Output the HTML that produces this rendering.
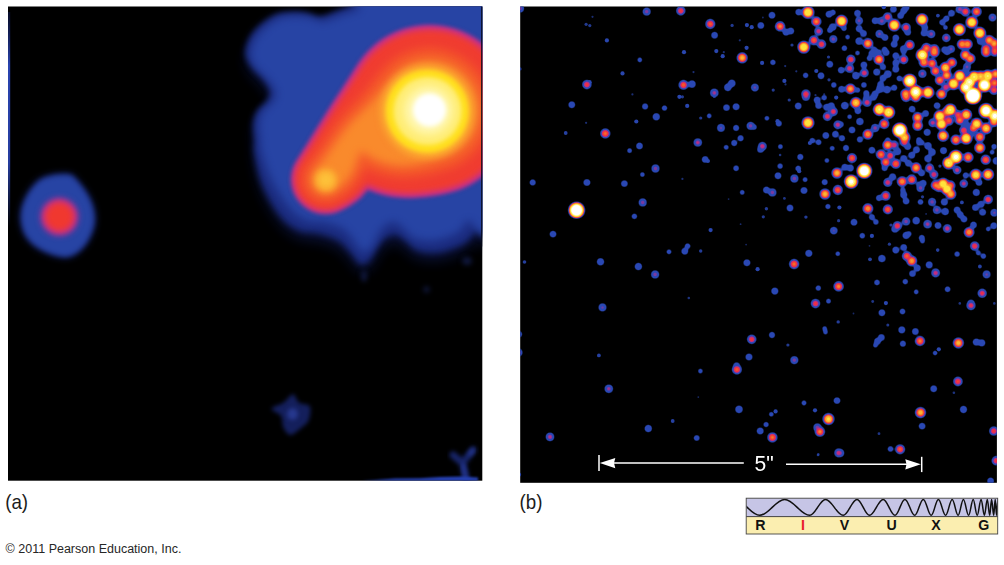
<!DOCTYPE html>
<html><head><meta charset="utf-8"><title>Figure</title>
<style>
html,body{margin:0;padding:0;background:#fff;}
body{width:1004px;height:565px;position:relative;overflow:hidden;font-family:"Liberation Sans",Arial,Helvetica,sans-serif;color:#1a1a1a;}
svg{position:absolute;left:0;top:0;}
.lbl{position:absolute;font-size:18px;line-height:1;white-space:nowrap;}
.cr{position:absolute;font-size:12.3px;line-height:1;white-space:nowrap;color:#222;}
</style></head><body>
<svg width="1004" height="565" viewBox="0 0 1004 565">
<defs>
<filter id="bl05" x="-5%" y="-5%" width="110%" height="110%" color-interpolation-filters="sRGB"><feGaussianBlur stdDeviation="0.55"/></filter>
<filter id="bl1" x="-30%" y="-30%" width="160%" height="160%" color-interpolation-filters="sRGB"><feGaussianBlur stdDeviation="0.8"/></filter>
<filter id="bl2" x="-30%" y="-30%" width="160%" height="160%" color-interpolation-filters="sRGB"><feGaussianBlur stdDeviation="2"/></filter>
<filter id="bl25" x="-30%" y="-30%" width="160%" height="160%" color-interpolation-filters="sRGB"><feGaussianBlur stdDeviation="2.5"/></filter>
<filter id="bl3" x="-30%" y="-30%" width="160%" height="160%" color-interpolation-filters="sRGB"><feGaussianBlur stdDeviation="3"/></filter>
<filter id="bl4" x="-30%" y="-30%" width="160%" height="160%" color-interpolation-filters="sRGB"><feGaussianBlur stdDeviation="4"/></filter>
<filter id="bl5" x="-30%" y="-30%" width="160%" height="160%" color-interpolation-filters="sRGB"><feGaussianBlur stdDeviation="5"/></filter>
<filter id="bl7" x="-30%" y="-30%" width="160%" height="160%" color-interpolation-filters="sRGB"><feGaussianBlur stdDeviation="7"/></filter>
<filter id="gooB" filterUnits="userSpaceOnUse" x="515" y="0" width="489" height="490" color-interpolation-filters="sRGB"><feGaussianBlur stdDeviation="1.3"/><feComponentTransfer><feFuncA type="linear" slope="2.5" intercept="-0.55"/></feComponentTransfer></filter>
<filter id="goo" filterUnits="userSpaceOnUse" x="515" y="0" width="489" height="490" color-interpolation-filters="sRGB"><feGaussianBlur stdDeviation="1.15"/><feComponentTransfer><feFuncA type="linear" slope="3.6" intercept="-1.05"/></feComponentTransfer></filter>
<linearGradient id="streak" x1="0" y1="0" x2="0" y2="1"><stop offset="0" stop-color="#1a2a80" stop-opacity="0.3"/><stop offset="0.25" stop-color="#2a44b0"/><stop offset="0.7" stop-color="#2a44b0" stop-opacity="0.9"/><stop offset="1" stop-color="#2a44b0" stop-opacity="0"/></linearGradient>
<clipPath id="ca"><rect x="8" y="6.5" width="474.3" height="474.2"/></clipPath>
<clipPath id="cb"><rect x="520.2" y="6.5" width="476.7" height="476.3"/></clipPath>
<clipPath id="cw"><rect x="746.5" y="498.5" width="251" height="18"/></clipPath>
</defs>
<!-- panel a -->
<rect x="8" y="6.5" width="474.3" height="474.2" fill="#000"/>
<g clip-path="url(#ca)">
<g filter="url(#bl7)" fill="#0c1440" opacity="0.9"><path d="M359.5 4.0 C356.1 6.0 345.3 9.4 338.8 11.7 C332.3 14.0 325.8 17.6 320.6 18.0 C315.4 18.4 312.5 15.0 307.7 14.2 C302.9 13.4 297.2 12.8 292.0 13.0 C286.8 13.2 281.8 13.3 276.6 15.5 C271.4 17.7 265.3 22.1 261.0 26.0 C256.7 29.9 253.1 34.1 250.7 38.8 C248.3 43.5 246.4 49.6 246.8 54.4 C247.2 59.1 250.5 63.4 253.3 67.3 C256.1 71.2 260.7 73.8 263.7 77.7 C266.7 81.6 270.5 86.7 271.4 90.6 C272.2 94.5 270.9 97.5 268.8 101.0 C266.7 104.5 260.9 107.4 258.5 111.3 C256.1 115.2 255.0 119.5 254.6 124.3 C254.2 129.1 255.7 134.9 255.9 139.8 C256.1 144.7 254.6 146.2 255.9 153.7 C257.2 161.2 259.4 174.3 263.7 184.7 C268.0 195.0 275.8 208.4 281.8 215.8 C287.9 223.2 293.7 226.5 300.0 229.2 C306.3 231.9 313.0 230.4 319.5 232.0 C326.0 233.6 333.8 235.9 339.0 239.0 C344.2 242.1 347.1 246.7 350.6 250.6 C354.2 254.5 357.1 261.0 360.3 262.3 C363.5 263.6 367.1 261.3 370.0 258.4 C372.9 255.5 375.3 248.5 377.9 244.8 C380.5 241.1 382.8 238.0 385.7 236.0 C388.6 234.0 392.2 232.5 395.4 233.0 C398.6 233.5 401.4 236.4 405.0 239.0 C408.6 241.6 411.6 246.7 416.8 248.7 C422.0 250.7 429.8 251.5 436.3 251.0 C442.8 250.5 450.5 247.7 455.7 245.7 C460.9 243.7 464.1 241.8 467.4 239.0 C470.6 236.2 471.4 232.7 475.2 229.2 C479.0 225.7 487.5 256.2 490.0 218.0 C492.5 179.8 511.8 36.3 490.0 0.0 C468.2 -36.3 381.2 -0.7 359.5 0.0 C337.8 0.7 362.9 2.0 359.5 4.0Z" transform="translate(0,9)"/></g>
<g filter="url(#bl3)" fill="#1b2c80"><path d="M359.2 2.5 C355.6 4.3 344.8 8.0 338.2 10.3 C331.6 12.7 325.0 16.3 319.8 16.7 C314.6 17.2 311.6 13.8 306.8 13.0 C302.0 12.2 296.2 11.6 291.0 11.9 C285.8 12.1 280.7 12.3 275.5 14.5 C270.3 16.7 264.2 21.2 259.8 25.1 C255.5 29.0 251.8 33.2 249.4 38.0 C247.0 42.8 245.0 49.0 245.4 53.8 C245.9 58.5 249.1 62.8 251.9 66.7 C254.7 70.7 259.3 73.3 262.3 77.2 C265.3 81.1 269.1 86.3 269.9 90.2 C270.8 94.1 269.5 97.3 267.3 100.8 C265.2 104.3 259.4 107.3 257.0 111.2 C254.6 115.1 253.5 119.5 253.1 124.3 C252.7 129.2 254.2 135.1 254.4 140.0 C254.6 145.0 253.1 146.5 254.4 154.1 C255.8 161.6 258.0 174.9 262.4 185.4 C266.8 195.9 274.6 209.3 280.7 216.8 C286.8 224.3 292.7 227.6 299.1 230.4 C305.4 233.1 312.2 231.6 318.7 233.3 C325.3 235.0 333.2 237.3 338.5 240.4 C343.7 243.5 346.6 248.2 350.2 252.1 C353.8 255.9 356.8 262.5 360.0 263.8 C363.3 265.1 366.9 262.8 369.8 259.9 C372.8 257.0 375.2 250.0 377.8 246.3 C380.5 242.6 382.8 239.5 385.7 237.5 C388.7 235.5 392.3 234.0 395.5 234.5 C398.8 235.0 401.6 237.9 405.2 240.5 C408.9 243.1 411.9 248.2 417.2 250.2 C422.4 252.1 430.3 252.9 436.8 252.4 C443.4 251.9 451.2 249.0 456.4 247.0 C461.7 245.0 465.0 243.0 468.3 240.2 C471.5 237.5 472.5 234.1 476.2 230.4 C479.8 226.7 487.7 256.4 490.0 218.0 C492.3 179.6 511.8 36.3 490.0 0.0 C468.2 -36.3 381.3 -0.4 359.5 0.0 C337.7 0.4 362.7 0.8 359.2 2.5Z"/></g>
<g filter="url(#bl4)" fill="#2744a4"><path d="M360.5 8.4 C357.3 11.0 346.8 13.6 340.6 15.8 C334.3 18.1 328.0 21.5 323.0 21.8 C318.0 22.1 315.0 18.7 310.4 17.8 C305.7 16.9 300.0 16.3 295.0 16.4 C289.9 16.5 284.9 16.6 279.8 18.6 C274.8 20.7 268.8 25.0 264.6 28.7 C260.4 32.5 256.8 36.5 254.6 41.1 C252.3 45.7 250.4 51.7 250.9 56.3 C251.4 61.0 254.6 65.2 257.5 69.0 C260.3 72.8 264.9 75.4 267.9 79.2 C271.0 83.0 274.9 88.0 275.8 91.7 C276.6 95.5 275.4 98.4 273.2 101.7 C271.1 105.0 265.3 107.9 263.0 111.6 C260.6 115.3 259.5 119.6 259.1 124.2 C258.7 128.7 259.9 134.4 260.3 139.1 C260.8 143.8 259.8 145.3 261.7 152.2 C263.6 159.1 267.2 170.9 271.9 180.3 C276.6 189.7 284.1 201.6 289.9 208.3 C295.7 215.0 300.9 218.2 306.8 220.5 C312.6 222.9 319.0 221.1 325.1 222.5 C331.1 223.9 338.2 225.8 343.0 228.7 C347.7 231.6 350.2 236.2 353.4 240.0 C356.6 243.7 359.2 250.2 362.2 251.5 C365.1 252.7 368.5 250.4 371.2 247.5 C373.9 244.5 376.1 237.6 378.5 233.8 C380.9 230.1 383.0 227.0 385.6 225.0 C388.3 223.0 391.5 221.5 394.4 222.0 C397.3 222.6 399.9 225.5 403.2 228.2 C406.5 230.8 409.3 235.9 414.2 238.0 C419.0 240.1 426.3 241.1 432.3 240.8 C438.3 240.4 445.5 237.9 450.3 236.1 C455.1 234.3 458.2 232.5 461.1 230.0 C464.1 227.4 463.4 222.7 468.2 220.7 C473.0 218.7 486.4 254.8 490.0 218.0 C493.6 181.2 511.8 36.3 490.0 0.0 C468.2 -36.3 381.1 -1.4 359.5 0.0 C337.9 1.4 363.6 5.8 360.5 8.4Z"/></g>
<g filter="url(#bl25)" fill="#10183f"><ellipse cx="364" cy="276" rx="3" ry="6"/><ellipse cx="467" cy="261" rx="5" ry="4"/><ellipse cx="426.5" cy="289.5" rx="3" ry="3"/></g>
<g filter="url(#bl2)" fill="#c42c98"><circle cx="429.5" cy="110.0" r="85.0"/><circle cx="424.3" cy="113.5" r="82.5"/><circle cx="419.1" cy="116.9" r="79.9"/><circle cx="413.8" cy="120.3" r="77.2"/><circle cx="408.4" cy="123.4" r="74.4"/><circle cx="402.8" cy="126.2" r="71.1"/><circle cx="396.8" cy="128.5" r="67.4"/><circle cx="390.3" cy="130.2" r="62.8"/><circle cx="383.4" cy="131.1" r="57.6"/><circle cx="376.2" cy="131.6" r="51.8"/><circle cx="369.1" cy="132.2" r="46.2"/><circle cx="362.5" cy="133.6" r="41.4"/><circle cx="356.8" cy="136.3" r="38.0"/><circle cx="352.1" cy="140.6" r="36.4"/><circle cx="348.4" cy="146.2" r="36.2"/><circle cx="345.2" cy="152.6" r="36.8"/><circle cx="342.0" cy="159.1" r="37.6"/><circle cx="338.6" cy="165.2" r="37.8"/><circle cx="334.7" cy="170.5" r="37.4"/><circle cx="330.3" cy="175.2" r="36.1"/><circle cx="325.6" cy="179.4" r="34.4"/></g>
<g filter="url(#bl3)" fill="#f03c30"><circle cx="429.5" cy="110.0" r="81.0"/><circle cx="424.3" cy="113.5" r="78.5"/><circle cx="419.1" cy="116.9" r="76.0"/><circle cx="413.8" cy="120.3" r="73.4"/><circle cx="408.4" cy="123.4" r="70.6"/><circle cx="402.8" cy="126.2" r="67.4"/><circle cx="396.8" cy="128.5" r="63.7"/><circle cx="390.3" cy="130.2" r="59.2"/><circle cx="383.4" cy="131.1" r="54.0"/><circle cx="376.2" cy="131.6" r="48.3"/><circle cx="369.1" cy="132.2" r="42.7"/><circle cx="362.5" cy="133.6" r="37.9"/><circle cx="356.8" cy="136.3" r="34.6"/><circle cx="352.1" cy="140.6" r="33.0"/><circle cx="348.4" cy="146.2" r="32.9"/><circle cx="345.2" cy="152.6" r="33.6"/><circle cx="342.0" cy="159.1" r="34.4"/><circle cx="338.6" cy="165.2" r="34.7"/><circle cx="334.7" cy="170.5" r="34.3"/><circle cx="330.3" cy="175.2" r="33.1"/><circle cx="325.6" cy="179.4" r="31.4"/></g>
<g filter="url(#bl5)" fill="#f4582a"><circle cx="429.5" cy="110.0" r="62.0"/><circle cx="424.3" cy="113.5" r="60.1"/><circle cx="419.1" cy="116.9" r="58.1"/><circle cx="413.8" cy="120.3" r="56.1"/><circle cx="408.4" cy="123.4" r="53.8"/><circle cx="402.8" cy="126.2" r="51.3"/><circle cx="396.8" cy="128.5" r="48.3"/><circle cx="390.3" cy="130.2" r="44.6"/><circle cx="383.4" cy="131.1" r="40.2"/><circle cx="376.2" cy="131.6" r="35.5"/><circle cx="369.1" cy="132.2" r="30.8"/><circle cx="362.5" cy="133.6" r="26.9"/><circle cx="356.8" cy="136.3" r="24.2"/><circle cx="352.1" cy="140.6" r="23.1"/><circle cx="348.4" cy="146.2" r="23.2"/><circle cx="345.2" cy="152.6" r="24.1"/><circle cx="342.0" cy="159.1" r="25.0"/><circle cx="338.6" cy="165.2" r="25.6"/><circle cx="334.7" cy="170.5" r="25.5"/><circle cx="330.3" cy="175.2" r="24.7"/><circle cx="325.6" cy="179.4" r="23.4"/></g>
<g filter="url(#bl5)" fill="#f98a2c"><circle cx="429.5" cy="110.0" r="50.0"/><circle cx="424.3" cy="113.5" r="48.2"/><circle cx="419.1" cy="116.9" r="46.4"/><circle cx="413.8" cy="120.3" r="44.5"/><circle cx="408.4" cy="123.4" r="42.4"/><circle cx="402.8" cy="126.2" r="40.1"/><circle cx="396.8" cy="128.5" r="37.2"/><circle cx="390.3" cy="130.2" r="33.6"/><circle cx="383.4" cy="131.1" r="29.4"/><circle cx="376.2" cy="131.6" r="24.8"/><circle cx="369.1" cy="132.2" r="20.3"/><circle cx="362.5" cy="133.6" r="16.5"/><circle cx="356.8" cy="136.3" r="14.0"/><circle cx="352.1" cy="140.6" r="13.0"/><circle cx="348.4" cy="146.2" r="13.3"/><circle cx="345.2" cy="152.6" r="14.3"/><circle cx="342.0" cy="159.1" r="15.4"/><circle cx="338.6" cy="165.2" r="16.1"/><circle cx="334.7" cy="170.5" r="16.2"/><circle cx="330.3" cy="175.2" r="15.6"/><circle cx="325.6" cy="179.4" r="14.4"/></g>
<g filter="url(#bl3)" fill="#fcaa30"><circle cx="427" cy="111.5" r="46.5"/><circle cx="326" cy="180" r="11.5"/></g>
<g filter="url(#bl2)"><circle cx="427.3" cy="111.2" r="41.5" fill="#ffe01e"/></g>
<g filter="url(#bl2)"><circle cx="427.6" cy="111" r="34" fill="#ffed74"/></g>
<g filter="url(#bl4)"><circle cx="428.5" cy="110.5" r="24" fill="#fff7b4"/></g>
<g filter="url(#bl2)"><circle cx="429.5" cy="110" r="16.5" fill="#ffffff"/></g>
<g filter="url(#bl3)"><circle cx="326" cy="180" r="7.5" fill="#fdc23a"/></g>
<g filter="url(#bl3)" fill="#16256c"><path d="M66.8 173.0 C60.6 172.6 48.3 173.8 41.4 177.6 C34.5 181.4 28.9 189.5 25.3 196.0 C21.7 202.5 19.6 209.9 19.6 216.8 C19.6 223.7 21.7 231.8 25.3 237.5 C28.9 243.2 34.5 247.9 41.4 251.3 C48.3 254.8 59.5 259.0 66.8 258.2 C74.1 257.4 80.4 252.4 85.2 246.7 C90.0 240.9 94.4 231.4 95.6 223.7 C96.8 216.0 95.0 208.0 92.1 200.7 C89.2 193.4 82.5 184.6 78.3 180.0 C74.1 175.4 73.0 173.4 66.8 173.0Z"/></g>
<g filter="url(#bl25)" fill="#2744a4"><path d="M66.3 175.5 C60.5 175.1 48.9 176.2 42.4 179.9 C35.9 183.5 30.8 191.1 27.4 197.3 C24.1 203.4 22.1 210.3 22.1 216.7 C22.1 223.2 24.0 230.8 27.4 236.1 C30.8 241.5 36.0 245.8 42.5 249.1 C49.0 252.3 59.5 256.5 66.3 255.7 C73.2 255.0 79.1 250.2 83.6 244.8 C88.0 239.4 92.1 230.4 93.2 223.2 C94.2 216.0 92.5 208.6 89.8 201.7 C87.1 194.9 81.0 186.6 77.1 182.2 C73.2 177.8 72.1 175.8 66.3 175.5Z"/></g>
<g filter="url(#bl3)" fill="#c42c94"><circle cx="59.4" cy="216.8" r="18.5"/></g>
<g filter="url(#bl3)" fill="#f0382f"><circle cx="59.4" cy="216.8" r="14.5"/></g>
<g filter="url(#bl2)" fill="#141f5c"><path d="M293.0 394.3 C295.6 394.3 296.2 400.7 299.0 402.7 C301.8 404.7 308.2 403.3 309.8 406.3 C311.4 409.3 310.0 417.0 308.6 420.6 C307.2 424.2 304.4 425.4 301.4 427.8 C298.4 430.2 293.6 435.0 290.6 435.0 C287.6 435.0 285.1 431.0 283.5 427.8 C281.9 424.6 283.0 419.1 281.0 415.9 C279.0 412.7 271.1 410.9 271.5 408.7 C271.9 406.5 279.9 405.1 283.5 402.7 C287.1 400.3 290.4 394.3 293.0 394.3Z"/></g>
<g filter="url(#bl2)" fill="#27388e"><ellipse cx="292.5" cy="414" rx="5.5" ry="6"/></g>
<g filter="url(#bl2)" fill="none" stroke="#172468" stroke-width="7" stroke-linecap="round"><path d="M466 478 L462.5 463 L453 455 M462.5 463 L473 450"/></g>
<g filter="url(#bl2)" fill="none" stroke="#263996" stroke-width="3.5" stroke-linecap="round"><path d="M465.5 478 L463 465 M470 454 L473 450"/></g>
<g filter="url(#bl1)"><path d="M362 481 L395 478.6 L420 478.2 L440 477 L462 476.6 L478 477.5 L478 481Z" fill="#2641b4"/></g>
<rect x="481.2" y="6.5" width="1.3" height="240" fill="#05081a"/>
<rect x="8" y="12" width="2.2" height="215" fill="url(#streak)"/>
</g>
<!-- panel b -->
<rect x="520.2" y="6.5" width="476.7" height="476.3" fill="#000"/>
<g clip-path="url(#cb)"><g>
<g fill="#2a48b4" filter="url(#bl05)"><circle cx="592.5" cy="16.8" r="1.1" opacity="0.64"/><circle cx="586.1" cy="24.3" r="1.6" opacity="0.80"/><circle cx="589.8" cy="25.6" r="1.6" opacity="0.80"/><circle cx="606.9" cy="40.4" r="2.1" opacity="0.97"/><circle cx="622.5" cy="73.4" r="2.1" opacity="0.97"/><circle cx="589.6" cy="82.2" r="2.1" opacity="0.97"/><circle cx="520.0" cy="68.9" r="1.6" opacity="0.80"/><circle cx="632.4" cy="94.4" r="1.1" opacity="0.64"/><circle cx="732.1" cy="25.4" r="1.6" opacity="0.80"/><circle cx="684.0" cy="52.2" r="2.1" opacity="0.97"/><circle cx="716.3" cy="51.1" r="2.1" opacity="0.97"/><circle cx="722.7" cy="56.2" r="2.1" opacity="0.97"/><circle cx="723.8" cy="52.2" r="1.1" opacity="0.64"/><circle cx="739.8" cy="40.3" r="1.1" opacity="0.64"/><circle cx="746.6" cy="47.8" r="2.1" opacity="0.97"/><circle cx="746.9" cy="25.1" r="2.1" opacity="0.97"/><circle cx="751.7" cy="27.2" r="2.1" opacity="0.97"/><circle cx="792.0" cy="45.0" r="1.6" opacity="0.80"/><circle cx="762.1" cy="62.9" r="2.1" opacity="0.97"/><circle cx="785.2" cy="66.1" r="1.1" opacity="0.64"/><circle cx="796.3" cy="71.3" r="1.1" opacity="0.64"/><circle cx="816.3" cy="71.0" r="2.1" opacity="0.97"/><circle cx="828.5" cy="57.0" r="1.6" opacity="0.80"/><circle cx="829.0" cy="79.8" r="1.6" opacity="0.80"/><circle cx="784.4" cy="80.9" r="2.1" opacity="0.97"/><circle cx="785.5" cy="84.4" r="1.1" opacity="0.64"/><circle cx="693.5" cy="72.1" r="1.1" opacity="0.64"/><circle cx="773.2" cy="90.1" r="1.6" opacity="0.80"/><circle cx="815.5" cy="95.2" r="1.1" opacity="0.64"/><circle cx="824.2" cy="94.4" r="1.1" opacity="0.64"/><circle cx="762.9" cy="17.5" r="0.9" opacity="0.57"/><circle cx="883.8" cy="7.2" r="2.1" opacity="0.97"/><circle cx="937.9" cy="15.6" r="1.9" opacity="0.90"/><circle cx="636.3" cy="121.5" r="2.1" opacity="0.97"/><circle cx="586.1" cy="122.8" r="1.1" opacity="0.64"/><circle cx="565.7" cy="133.0" r="1.9" opacity="0.90"/><circle cx="679.4" cy="96.8" r="2.1" opacity="0.97"/><circle cx="687.2" cy="105.9" r="2.1" opacity="0.97"/><circle cx="682.4" cy="96.8" r="1.6" opacity="0.80"/><circle cx="714.3" cy="96.5" r="1.6" opacity="0.80"/><circle cx="700.7" cy="118.0" r="1.6" opacity="0.80"/><circle cx="777.5" cy="121.2" r="2.1" opacity="0.97"/><circle cx="707.9" cy="161.0" r="2.1" opacity="0.97"/><circle cx="780.1" cy="155.0" r="1.3" opacity="0.70"/><circle cx="799.2" cy="171.2" r="2.1" opacity="0.97"/><circle cx="682.4" cy="178.9" r="1.1" opacity="0.64"/><circle cx="789.2" cy="100.0" r="1.6" opacity="0.80"/><circle cx="809.9" cy="143.0" r="2.1" opacity="0.97"/><circle cx="836.2" cy="97.6" r="2.1" opacity="0.97"/><circle cx="939.9" cy="166.1" r="1.6" opacity="0.80"/><circle cx="524.5" cy="262.0" r="1.8" opacity="0.87"/><circle cx="784.4" cy="198.4" r="1.4" opacity="0.74"/><circle cx="766.4" cy="208.8" r="1.7" opacity="0.84"/><circle cx="763.3" cy="216.8" r="1.6" opacity="0.80"/><circle cx="805.9" cy="217.1" r="1.7" opacity="0.84"/><circle cx="839.4" cy="207.5" r="2.1" opacity="0.97"/><circle cx="728.6" cy="199.1" r="0.9" opacity="0.57"/><circle cx="740.6" cy="224.2" r="0.9" opacity="0.60"/><circle cx="710.6" cy="230.1" r="2.1" opacity="0.97"/><circle cx="838.6" cy="220.7" r="1.6" opacity="0.80"/><circle cx="700.7" cy="251.0" r="1.7" opacity="0.84"/><circle cx="746.1" cy="244.6" r="0.9" opacity="0.57"/><circle cx="757.6" cy="269.2" r="2.1" opacity="0.97"/><circle cx="871.9" cy="235.9" r="2.1" opacity="0.97"/><circle cx="922.5" cy="196.8" r="1.6" opacity="0.80"/><circle cx="961.9" cy="202.4" r="1.9" opacity="0.90"/><circle cx="891.0" cy="225.0" r="1.6" opacity="0.80"/><circle cx="937.7" cy="250.1" r="1.8" opacity="0.87"/><circle cx="889.4" cy="244.2" r="1.6" opacity="0.80"/><circle cx="870.0" cy="259.3" r="1.9" opacity="0.90"/><circle cx="979.9" cy="266.5" r="1.9" opacity="0.90"/><circle cx="869.5" cy="245.8" r="0.9" opacity="0.57"/><circle cx="926.1" cy="213.9" r="0.9" opacity="0.57"/><circle cx="598.9" cy="355.4" r="1.9" opacity="0.90"/><circle cx="688.8" cy="298.0" r="1.3" opacity="0.70"/><circle cx="838.2" cy="321.9" r="1.7" opacity="0.84"/><circle cx="787.9" cy="345.0" r="1.6" opacity="0.80"/><circle cx="959.8" cy="303.4" r="1.3" opacity="0.70"/><circle cx="994.3" cy="303.4" r="1.3" opacity="0.70"/><circle cx="872.7" cy="301.5" r="1.4" opacity="0.74"/><circle cx="885.9" cy="303.1" r="2.1" opacity="0.97"/><circle cx="887.8" cy="325.1" r="1.5" opacity="0.77"/><circle cx="938.8" cy="349.3" r="2.1" opacity="0.97"/><circle cx="853.5" cy="313.5" r="0.9" opacity="0.57"/><circle cx="672.7" cy="421.0" r="1.9" opacity="0.90"/><circle cx="698.3" cy="397.1" r="0.9" opacity="0.57"/><circle cx="775.6" cy="411.4" r="2.1" opacity="0.97"/><circle cx="815.0" cy="410.3" r="2.1" opacity="0.97"/><circle cx="818.3" cy="454.4" r="1.3" opacity="0.70"/><circle cx="953.9" cy="392.8" r="1.3" opacity="0.70"/><circle cx="879.0" cy="433.7" r="1.4" opacity="0.74"/><circle cx="818.0" cy="455.0" r="1.3" opacity="0.70"/><circle cx="519.0" cy="474.7" r="2.1" opacity="0.97"/></g>
<g fill="#2a48b4" filter="url(#gooB)"><circle cx="646.7" cy="11.6" r="3.9"/><circle cx="639.8" cy="59.9" r="2.3"/><circle cx="586.9" cy="84.6" r="4.6"/><circle cx="520.0" cy="8.4" r="3.9"/><circle cx="680.8" cy="10.8" r="4.6"/><circle cx="710.3" cy="24.0" r="4.9"/><circle cx="714.6" cy="35.2" r="3.2"/><circle cx="742.2" cy="57.8" r="5.5"/><circle cx="760.8" cy="25.4" r="3.2"/><circle cx="772.0" cy="15.2" r="3.2"/><circle cx="780.1" cy="26.4" r="5.1"/><circle cx="786.0" cy="32.3" r="3.2"/><circle cx="790.8" cy="31.0" r="3.2"/><circle cx="798.7" cy="12.1" r="3.2"/><circle cx="808.0" cy="12.4" r="6.4"/><circle cx="816.3" cy="21.5" r="5.1"/><circle cx="818.6" cy="31.2" r="4.3"/><circle cx="813.9" cy="40.3" r="4.9"/><circle cx="821.5" cy="44.2" r="4.6"/><circle cx="803.8" cy="47.1" r="6.4"/><circle cx="829.0" cy="14.3" r="3.2"/><circle cx="833.0" cy="12.4" r="2.6"/><circle cx="832.7" cy="27.0" r="3.6"/><circle cx="829.8" cy="30.2" r="2.6"/><circle cx="833.3" cy="39.1" r="3.9"/><circle cx="772.9" cy="62.3" r="2.6"/><circle cx="805.6" cy="75.3" r="2.6"/><circle cx="821.0" cy="75.8" r="3.2"/><circle cx="829.8" cy="64.2" r="3.2"/><circle cx="833.8" cy="84.9" r="2.6"/><circle cx="683.5" cy="84.9" r="4.9"/><circle cx="692.0" cy="84.1" r="3.6"/><circle cx="731.8" cy="83.3" r="3.6"/><circle cx="727.8" cy="87.3" r="3.6"/><circle cx="754.9" cy="87.6" r="3.8"/><circle cx="714.3" cy="92.9" r="4.1"/><circle cx="805.9" cy="94.1" r="4.6"/><circle cx="841.6" cy="21.1" r="6.3"/><circle cx="844.0" cy="28.3" r="2.6"/><circle cx="857.5" cy="13.2" r="3.2"/><circle cx="859.1" cy="20.7" r="3.8"/><circle cx="859.1" cy="28.7" r="3.2"/><circle cx="863.5" cy="33.5" r="3.2"/><circle cx="847.6" cy="37.1" r="2.3"/><circle cx="859.1" cy="41.1" r="3.6"/><circle cx="867.9" cy="43.5" r="5.4"/><circle cx="844.4" cy="48.2" r="2.6"/><circle cx="875.1" cy="20.7" r="3.2"/><circle cx="881.8" cy="21.1" r="4.0"/><circle cx="887.6" cy="17.0" r="4.6"/><circle cx="894.2" cy="25.1" r="6.3"/><circle cx="906.1" cy="27.5" r="4.6"/><circle cx="907.7" cy="32.3" r="3.2"/><circle cx="900.6" cy="15.6" r="3.2"/><circle cx="903.7" cy="10.8" r="3.2"/><circle cx="906.1" cy="7.6" r="3.2"/><circle cx="893.4" cy="9.2" r="3.2"/><circle cx="879.4" cy="33.9" r="3.8"/><circle cx="885.0" cy="37.5" r="3.2"/><circle cx="895.8" cy="37.9" r="3.2"/><circle cx="894.2" cy="44.2" r="3.3"/><circle cx="909.7" cy="45.0" r="4.9"/><circle cx="903.7" cy="49.0" r="3.6"/><circle cx="874.3" cy="49.4" r="2.6"/><circle cx="884.6" cy="49.4" r="2.6"/><circle cx="922.0" cy="19.5" r="6.3"/><circle cx="924.8" cy="27.5" r="3.2"/><circle cx="931.2" cy="33.9" r="4.0"/><circle cx="924.0" cy="33.1" r="3.2"/><circle cx="951.5" cy="13.2" r="3.2"/><circle cx="946.3" cy="18.7" r="2.9"/><circle cx="942.3" cy="22.3" r="2.9"/><circle cx="945.5" cy="27.5" r="2.3"/><circle cx="946.3" cy="37.9" r="4.2"/><circle cx="959.4" cy="29.5" r="6.3"/><circle cx="971.8" cy="22.3" r="6.3"/><circle cx="979.8" cy="33.1" r="6.3"/><circle cx="965.4" cy="11.6" r="4.8"/><circle cx="959.8" cy="9.2" r="4.0"/><circle cx="976.6" cy="11.6" r="5.1"/><circle cx="992.5" cy="17.6" r="3.8"/><circle cx="962.2" cy="44.2" r="5.3"/><circle cx="967.4" cy="44.2" r="5.3"/><circle cx="989.3" cy="40.3" r="5.4"/><circle cx="994.1" cy="43.5" r="5.4"/><circle cx="986.1" cy="49.0" r="5.1"/><circle cx="926.4" cy="48.2" r="5.1"/><circle cx="934.3" cy="49.4" r="5.1"/><circle cx="951.1" cy="49.0" r="3.8"/><circle cx="944.7" cy="49.8" r="3.2"/><circle cx="980.6" cy="41.1" r="3.6"/><circle cx="994.9" cy="49.8" r="4.8"/><circle cx="850.8" cy="59.4" r="4.6"/><circle cx="849.6" cy="68.4" r="4.4"/><circle cx="864.3" cy="72.9" r="4.4"/><circle cx="863.9" cy="64.9" r="3.2"/><circle cx="855.9" cy="75.7" r="3.6"/><circle cx="857.5" cy="53.0" r="2.3"/><circle cx="841.2" cy="70.1" r="3.2"/><circle cx="879.0" cy="59.4" r="5.4"/><circle cx="871.9" cy="53.4" r="3.2"/><circle cx="878.2" cy="52.6" r="3.2"/><circle cx="886.2" cy="52.6" r="3.2"/><circle cx="869.5" cy="58.2" r="2.6"/><circle cx="883.0" cy="66.9" r="2.9"/><circle cx="876.7" cy="72.1" r="3.4"/><circle cx="887.8" cy="74.1" r="3.7"/><circle cx="883.0" cy="78.1" r="3.2"/><circle cx="880.6" cy="84.5" r="3.2"/><circle cx="879.8" cy="89.2" r="3.6"/><circle cx="887.0" cy="89.6" r="3.6"/><circle cx="894.2" cy="87.7" r="2.9"/><circle cx="875.1" cy="94.0" r="3.2"/><circle cx="866.3" cy="93.2" r="2.9"/><circle cx="863.9" cy="84.9" r="2.7"/><circle cx="850.4" cy="88.8" r="5.4"/><circle cx="841.6" cy="89.2" r="3.2"/><circle cx="857.5" cy="90.0" r="2.6"/><circle cx="895.8" cy="55.8" r="3.2"/><circle cx="895.8" cy="63.0" r="3.2"/><circle cx="895.8" cy="69.3" r="3.3"/><circle cx="903.7" cy="59.6" r="4.6"/><circle cx="903.7" cy="51.8" r="2.6"/><circle cx="899.4" cy="78.5" r="2.7"/><circle cx="909.7" cy="80.9" r="7.2"/><circle cx="915.7" cy="92.0" r="7.2"/><circle cx="905.7" cy="94.0" r="5.4"/><circle cx="922.4" cy="55.0" r="6.8"/><circle cx="924.0" cy="62.2" r="5.3"/><circle cx="932.0" cy="63.4" r="5.1"/><circle cx="935.5" cy="70.9" r="5.1"/><circle cx="934.3" cy="52.2" r="5.3"/><circle cx="947.1" cy="51.8" r="3.2"/><circle cx="922.4" cy="73.7" r="4.0"/><circle cx="945.5" cy="67.7" r="5.9"/><circle cx="951.9" cy="62.6" r="5.1"/><circle cx="946.7" cy="75.3" r="5.4"/><circle cx="939.9" cy="80.1" r="5.1"/><circle cx="965.4" cy="55.0" r="5.4"/><circle cx="970.2" cy="58.6" r="5.3"/><circle cx="967.0" cy="66.9" r="3.8"/><circle cx="965.4" cy="71.7" r="3.2"/><circle cx="959.8" cy="76.1" r="6.3"/><circle cx="953.5" cy="83.7" r="6.3"/><circle cx="945.9" cy="87.3" r="4.4"/><circle cx="928.0" cy="92.4" r="6.3"/><circle cx="941.5" cy="94.0" r="5.4"/><circle cx="920.0" cy="92.4" r="5.1"/><circle cx="986.1" cy="52.2" r="5.1"/><circle cx="994.9" cy="51.8" r="4.8"/><circle cx="984.5" cy="84.9" r="7.7"/><circle cx="987.7" cy="76.1" r="6.5"/><circle cx="980.6" cy="76.5" r="5.9"/><circle cx="974.2" cy="76.9" r="6.5"/><circle cx="969.4" cy="82.1" r="7.0"/><circle cx="966.2" cy="87.3" r="7.2"/><circle cx="973.0" cy="95.6" r="9.0"/><circle cx="995.7" cy="74.1" r="5.4"/><circle cx="994.5" cy="82.9" r="5.1"/><circle cx="994.1" cy="90.0" r="4.8"/><circle cx="571.8" cy="104.8" r="3.2"/><circle cx="645.1" cy="106.4" r="2.9"/><circle cx="664.5" cy="108.0" r="2.6"/><circle cx="656.3" cy="116.7" r="3.5"/><circle cx="605.3" cy="133.5" r="5.0"/><circle cx="639.5" cy="145.9" r="3.2"/><circle cx="629.6" cy="150.7" r="2.4"/><circle cx="655.5" cy="168.5" r="3.9"/><circle cx="642.4" cy="174.6" r="2.3"/><circle cx="532.7" cy="182.4" r="2.9"/><circle cx="586.9" cy="182.5" r="3.3"/><circle cx="624.4" cy="183.6" r="3.2"/><circle cx="726.5" cy="107.6" r="3.2"/><circle cx="736.1" cy="106.8" r="3.3"/><circle cx="709.2" cy="115.9" r="2.3"/><circle cx="721.0" cy="127.9" r="3.8"/><circle cx="736.1" cy="127.9" r="2.9"/><circle cx="750.6" cy="125.8" r="3.9"/><circle cx="754.1" cy="127.1" r="2.6"/><circle cx="766.9" cy="118.3" r="2.3"/><circle cx="778.8" cy="123.4" r="2.9"/><circle cx="697.8" cy="142.5" r="4.1"/><circle cx="740.6" cy="138.2" r="2.9"/><circle cx="734.2" cy="143.0" r="2.9"/><circle cx="726.2" cy="147.3" r="2.4"/><circle cx="762.4" cy="146.2" r="4.3"/><circle cx="760.5" cy="149.4" r="3.2"/><circle cx="780.4" cy="146.7" r="2.4"/><circle cx="705.2" cy="159.4" r="3.2"/><circle cx="736.1" cy="168.2" r="2.7"/><circle cx="780.1" cy="166.1" r="2.6"/><circle cx="778.0" cy="175.7" r="3.2"/><circle cx="800.3" cy="157.0" r="2.9"/><circle cx="798.2" cy="168.5" r="2.7"/><circle cx="794.4" cy="178.5" r="3.9"/><circle cx="805.1" cy="179.7" r="2.4"/><circle cx="808.0" cy="122.8" r="6.4"/><circle cx="798.2" cy="106.0" r="3.2"/><circle cx="805.9" cy="96.8" r="3.9"/><circle cx="817.1" cy="100.0" r="3.2"/><circle cx="818.6" cy="105.6" r="3.2"/><circle cx="826.6" cy="107.2" r="3.2"/><circle cx="831.4" cy="105.6" r="3.2"/><circle cx="824.2" cy="97.6" r="2.6"/><circle cx="827.4" cy="116.4" r="4.5"/><circle cx="833.3" cy="111.6" r="4.5"/><circle cx="837.8" cy="124.7" r="4.3"/><circle cx="835.4" cy="134.2" r="3.2"/><circle cx="825.8" cy="135.5" r="3.2"/><circle cx="812.3" cy="140.6" r="2.7"/><circle cx="818.6" cy="142.2" r="2.7"/><circle cx="832.2" cy="148.3" r="2.4"/><circle cx="826.9" cy="160.5" r="2.3"/><circle cx="837.0" cy="173.0" r="5.5"/><circle cx="824.7" cy="182.1" r="2.9"/><circle cx="855.9" cy="102.8" r="5.9"/><circle cx="844.8" cy="105.6" r="3.7"/><circle cx="857.9" cy="110.7" r="3.2"/><circle cx="867.1" cy="102.4" r="4.4"/><circle cx="866.3" cy="98.4" r="3.2"/><circle cx="873.5" cy="97.2" r="3.2"/><circle cx="849.6" cy="116.7" r="2.3"/><circle cx="859.9" cy="121.5" r="3.6"/><circle cx="840.8" cy="124.3" r="2.9"/><circle cx="852.0" cy="129.9" r="3.2"/><circle cx="842.0" cy="138.2" r="2.9"/><circle cx="859.9" cy="139.4" r="2.9"/><circle cx="879.4" cy="109.5" r="6.5"/><circle cx="888.6" cy="112.3" r="6.5"/><circle cx="884.2" cy="123.9" r="5.1"/><circle cx="875.1" cy="127.9" r="4.0"/><circle cx="867.9" cy="134.2" r="5.3"/><circle cx="899.8" cy="130.3" r="7.8"/><circle cx="904.5" cy="137.4" r="5.9"/><circle cx="912.1" cy="109.1" r="3.2"/><circle cx="917.7" cy="117.5" r="5.4"/><circle cx="917.7" cy="125.5" r="5.3"/><circle cx="906.1" cy="96.8" r="5.1"/><circle cx="915.7" cy="96.8" r="5.4"/><circle cx="887.8" cy="140.2" r="2.6"/><circle cx="918.9" cy="139.8" r="2.6"/><circle cx="937.1" cy="105.6" r="3.2"/><circle cx="950.3" cy="109.9" r="6.5"/><circle cx="947.1" cy="111.9" r="5.4"/><circle cx="939.9" cy="116.3" r="6.3"/><circle cx="941.5" cy="123.9" r="6.3"/><circle cx="948.7" cy="120.7" r="4.9"/><circle cx="932.7" cy="122.7" r="4.2"/><circle cx="925.6" cy="113.5" r="3.2"/><circle cx="927.2" cy="132.3" r="3.4"/><circle cx="966.2" cy="114.7" r="5.9"/><circle cx="959.8" cy="119.9" r="5.1"/><circle cx="958.2" cy="115.1" r="4.8"/><circle cx="986.1" cy="110.7" r="7.7"/><circle cx="994.9" cy="115.9" r="7.2"/><circle cx="994.1" cy="121.5" r="5.4"/><circle cx="976.6" cy="123.9" r="6.1"/><circle cx="973.4" cy="127.9" r="5.1"/><circle cx="986.1" cy="128.3" r="5.9"/><circle cx="963.8" cy="130.3" r="4.6"/><circle cx="943.1" cy="135.8" r="5.9"/><circle cx="966.2" cy="138.2" r="6.3"/><circle cx="979.8" cy="137.0" r="5.3"/><circle cx="955.9" cy="139.8" r="5.3"/><circle cx="965.4" cy="123.9" r="3.6"/><circle cx="971.0" cy="133.5" r="3.2"/><circle cx="846.0" cy="148.0" r="2.9"/><circle cx="871.9" cy="150.2" r="3.2"/><circle cx="852.0" cy="158.1" r="4.9"/><circle cx="864.3" cy="170.9" r="7.9"/><circle cx="851.2" cy="181.6" r="7.2"/><circle cx="850.4" cy="168.1" r="3.3"/><circle cx="844.8" cy="167.3" r="3.2"/><circle cx="887.8" cy="145.0" r="5.4"/><circle cx="894.2" cy="145.0" r="4.4"/><circle cx="881.0" cy="154.5" r="5.1"/><circle cx="890.2" cy="155.7" r="4.6"/><circle cx="885.8" cy="162.1" r="5.1"/><circle cx="895.8" cy="163.7" r="5.0"/><circle cx="897.4" cy="151.4" r="3.6"/><circle cx="884.6" cy="168.1" r="2.9"/><circle cx="904.5" cy="141.8" r="4.8"/><circle cx="907.7" cy="146.6" r="3.3"/><circle cx="916.5" cy="149.8" r="3.3"/><circle cx="911.7" cy="155.3" r="3.3"/><circle cx="903.7" cy="158.5" r="3.3"/><circle cx="908.5" cy="163.3" r="3.3"/><circle cx="916.1" cy="167.7" r="5.4"/><circle cx="902.2" cy="181.6" r="5.3"/><circle cx="911.7" cy="179.6" r="5.0"/><circle cx="887.8" cy="182.4" r="4.4"/><circle cx="892.6" cy="176.9" r="3.4"/><circle cx="918.9" cy="142.6" r="2.6"/><circle cx="918.9" cy="184.4" r="2.6"/><circle cx="979.8" cy="147.8" r="5.6"/><circle cx="994.1" cy="146.6" r="2.6"/><circle cx="992.1" cy="152.2" r="2.3"/><circle cx="943.5" cy="150.6" r="3.4"/><circle cx="928.0" cy="145.8" r="3.6"/><circle cx="932.0" cy="152.2" r="3.6"/><circle cx="928.0" cy="158.5" r="3.6"/><circle cx="921.6" cy="142.6" r="2.6"/><circle cx="955.9" cy="156.9" r="7.2"/><circle cx="948.7" cy="162.9" r="6.5"/><circle cx="968.2" cy="157.3" r="5.3"/><circle cx="985.7" cy="159.7" r="5.0"/><circle cx="929.6" cy="168.1" r="4.5"/><circle cx="933.9" cy="174.5" r="4.4"/><circle cx="921.6" cy="172.9" r="3.2"/><circle cx="957.1" cy="170.1" r="4.2"/><circle cx="975.8" cy="174.9" r="6.1"/><circle cx="988.1" cy="174.5" r="5.9"/><circle cx="965.8" cy="175.3" r="2.9"/><circle cx="963.8" cy="183.6" r="4.2"/><circle cx="943.1" cy="184.0" r="6.3"/><circle cx="935.9" cy="185.2" r="5.1"/><circle cx="950.3" cy="185.6" r="5.1"/><circle cx="923.2" cy="183.2" r="3.2"/><circle cx="996.5" cy="160.9" r="3.6"/><circle cx="979.0" cy="182.4" r="3.2"/><circle cx="576.6" cy="210.2" r="8.5"/><circle cx="642.7" cy="202.4" r="3.9"/><circle cx="634.4" cy="216.3" r="2.6"/><circle cx="553.0" cy="234.1" r="3.2"/><circle cx="669.0" cy="251.8" r="2.4"/><circle cx="600.5" cy="261.7" r="3.5"/><circle cx="638.4" cy="266.5" r="3.5"/><circle cx="655.1" cy="274.4" r="3.9"/><circle cx="742.2" cy="192.4" r="2.3"/><circle cx="772.4" cy="192.4" r="3.9"/><circle cx="766.4" cy="190.0" r="3.2"/><circle cx="804.0" cy="190.5" r="3.3"/><circle cx="825.0" cy="194.0" r="5.5"/><circle cx="837.8" cy="190.0" r="4.9"/><circle cx="790.0" cy="208.0" r="3.2"/><circle cx="827.9" cy="206.4" r="2.5"/><circle cx="833.8" cy="230.6" r="3.7"/><circle cx="687.6" cy="246.1" r="2.7"/><circle cx="684.8" cy="251.3" r="3.2"/><circle cx="808.8" cy="253.3" r="3.4"/><circle cx="837.8" cy="253.7" r="2.3"/><circle cx="746.9" cy="262.8" r="3.3"/><circle cx="794.1" cy="264.1" r="5.0"/><circle cx="885.7" cy="195.9" r="4.8"/><circle cx="879.0" cy="198.0" r="2.9"/><circle cx="867.9" cy="208.6" r="5.3"/><circle cx="871.9" cy="217.1" r="2.9"/><circle cx="875.9" cy="221.9" r="2.6"/><circle cx="887.8" cy="209.4" r="4.9"/><circle cx="854.0" cy="222.2" r="3.2"/><circle cx="862.3" cy="235.7" r="2.6"/><circle cx="903.7" cy="194.8" r="3.4"/><circle cx="906.1" cy="201.1" r="3.2"/><circle cx="902.9" cy="190.0" r="2.6"/><circle cx="920.5" cy="187.9" r="3.9"/><circle cx="920.5" cy="201.9" r="2.7"/><circle cx="932.1" cy="201.9" r="3.9"/><circle cx="936.9" cy="209.9" r="3.9"/><circle cx="945.2" cy="211.5" r="3.6"/><circle cx="944.4" cy="201.9" r="3.4"/><circle cx="947.1" cy="188.9" r="6.4"/><circle cx="950.8" cy="194.0" r="5.5"/><circle cx="938.8" cy="186.8" r="5.1"/><circle cx="957.1" cy="209.9" r="3.2"/><circle cx="960.3" cy="214.7" r="3.2"/><circle cx="964.0" cy="219.1" r="3.2"/><circle cx="976.3" cy="192.4" r="3.4"/><circle cx="988.2" cy="199.5" r="4.6"/><circle cx="981.0" cy="204.3" r="3.3"/><circle cx="975.5" cy="207.5" r="3.3"/><circle cx="982.6" cy="212.3" r="3.3"/><circle cx="994.3" cy="212.8" r="3.8"/><circle cx="993.8" cy="225.8" r="3.2"/><circle cx="988.2" cy="229.0" r="2.3"/><circle cx="897.4" cy="225.8" r="4.6"/><circle cx="895.0" cy="229.0" r="3.6"/><circle cx="906.1" cy="221.4" r="3.9"/><circle cx="916.2" cy="220.7" r="3.6"/><circle cx="927.6" cy="224.2" r="4.1"/><circle cx="938.0" cy="225.5" r="3.2"/><circle cx="947.3" cy="228.5" r="4.3"/><circle cx="969.1" cy="232.2" r="5.3"/><circle cx="973.5" cy="225.0" r="3.2"/><circle cx="906.1" cy="235.4" r="3.4"/><circle cx="908.8" cy="233.8" r="2.6"/><circle cx="921.8" cy="237.8" r="2.9"/><circle cx="922.5" cy="241.0" r="2.4"/><circle cx="974.7" cy="246.1" r="4.6"/><circle cx="978.3" cy="252.9" r="2.4"/><circle cx="983.4" cy="256.1" r="2.6"/><circle cx="957.1" cy="254.0" r="2.6"/><circle cx="895.8" cy="250.1" r="3.3"/><circle cx="903.7" cy="247.4" r="3.2"/><circle cx="906.9" cy="256.1" r="4.9"/><circle cx="911.7" cy="260.9" r="5.4"/><circle cx="917.3" cy="268.1" r="3.3"/><circle cx="912.5" cy="273.6" r="3.2"/><circle cx="881.9" cy="258.5" r="3.6"/><circle cx="929.2" cy="264.9" r="3.3"/><circle cx="935.6" cy="272.9" r="4.3"/><circle cx="986.6" cy="274.4" r="3.8"/><circle cx="602.5" cy="307.4" r="3.8"/><circle cx="518.7" cy="334.2" r="3.2"/><circle cx="518.1" cy="352.5" r="4.3"/><circle cx="774.8" cy="291.1" r="3.4"/><circle cx="818.3" cy="288.0" r="2.6"/><circle cx="838.6" cy="286.4" r="5.1"/><circle cx="815.5" cy="303.6" r="4.6"/><circle cx="828.5" cy="301.2" r="2.4"/><circle cx="824.7" cy="328.6" r="2.3"/><circle cx="825.5" cy="332.1" r="2.3"/><circle cx="751.7" cy="339.3" r="4.6"/><circle cx="772.0" cy="335.0" r="2.9"/><circle cx="749.0" cy="357.0" r="3.3"/><circle cx="794.3" cy="360.1" r="3.9"/><circle cx="736.6" cy="365.6" r="3.2"/><circle cx="877.0" cy="282.4" r="2.7"/><circle cx="905.3" cy="281.6" r="2.6"/><circle cx="916.2" cy="291.9" r="2.3"/><circle cx="947.6" cy="289.2" r="2.7"/><circle cx="982.2" cy="293.2" r="4.5"/><circle cx="971.0" cy="305.5" r="4.5"/><circle cx="971.0" cy="303.1" r="3.3"/><circle cx="881.9" cy="312.7" r="3.2"/><circle cx="902.5" cy="311.5" r="2.7"/><circle cx="901.8" cy="329.9" r="3.3"/><circle cx="915.4" cy="331.5" r="3.2"/><circle cx="881.4" cy="337.4" r="3.2"/><circle cx="877.5" cy="341.3" r="3.2"/><circle cx="875.4" cy="345.3" r="2.3"/><circle cx="902.9" cy="343.7" r="2.9"/><circle cx="920.0" cy="341.0" r="5.1"/><circle cx="958.4" cy="342.9" r="5.5"/><circle cx="976.3" cy="342.1" r="3.4"/><circle cx="981.8" cy="342.9" r="3.3"/><circle cx="935.1" cy="353.0" r="2.3"/><circle cx="608.8" cy="388.8" r="4.1"/><circle cx="550.0" cy="436.9" r="4.1"/><circle cx="648.3" cy="428.6" r="3.5"/><circle cx="700.4" cy="371.1" r="2.3"/><circle cx="736.9" cy="369.5" r="4.9"/><circle cx="739.0" cy="409.3" r="3.6"/><circle cx="696.7" cy="438.0" r="2.8"/><circle cx="771.3" cy="414.3" r="2.3"/><circle cx="766.1" cy="424.5" r="2.5"/><circle cx="760.2" cy="431.0" r="3.3"/><circle cx="772.4" cy="437.4" r="5.0"/><circle cx="804.0" cy="403.0" r="2.4"/><circle cx="837.0" cy="400.6" r="3.2"/><circle cx="828.5" cy="419.1" r="6.0"/><circle cx="819.9" cy="431.7" r="5.1"/><circle cx="817.4" cy="427.4" r="3.9"/><circle cx="838.6" cy="452.9" r="4.3"/><circle cx="957.9" cy="381.5" r="4.7"/><circle cx="933.7" cy="388.8" r="3.2"/><circle cx="963.5" cy="409.5" r="3.4"/><circle cx="920.5" cy="412.5" r="5.5"/><circle cx="922.1" cy="426.1" r="3.2"/><circle cx="993.8" cy="431.0" r="4.6"/><circle cx="900.1" cy="449.3" r="4.9"/><circle cx="890.5" cy="448.9" r="2.7"/><circle cx="840.2" cy="453.0" r="3.9"/><circle cx="996.3" cy="460.7" r="4.6"/><circle cx="990.6" cy="481.0" r="3.2"/></g>
<g fill="#7a3aa0" filter="url(#goo)"><circle cx="646.7" cy="11.6" r="1.9"/><circle cx="586.9" cy="84.6" r="3.0"/><circle cx="520.0" cy="8.4" r="1.9"/><circle cx="680.8" cy="10.8" r="3.0"/><circle cx="710.3" cy="24.0" r="3.4"/><circle cx="742.2" cy="57.8" r="4.3"/><circle cx="780.1" cy="26.4" r="3.7"/><circle cx="808.0" cy="12.4" r="5.4"/><circle cx="816.3" cy="21.5" r="3.7"/><circle cx="818.6" cy="31.2" r="2.5"/><circle cx="813.9" cy="40.3" r="3.4"/><circle cx="821.5" cy="44.2" r="3.0"/><circle cx="803.8" cy="47.1" r="5.4"/><circle cx="832.7" cy="27.0" r="0.8"/><circle cx="833.3" cy="39.1" r="1.9"/><circle cx="683.5" cy="84.9" r="3.4"/><circle cx="692.0" cy="84.1" r="0.8"/><circle cx="731.8" cy="83.3" r="0.8"/><circle cx="727.8" cy="87.3" r="0.8"/><circle cx="754.9" cy="87.6" r="1.5"/><circle cx="714.3" cy="92.9" r="2.1"/><circle cx="805.9" cy="94.1" r="3.0"/><circle cx="841.6" cy="21.1" r="5.3"/><circle cx="859.1" cy="20.7" r="1.7"/><circle cx="859.1" cy="41.1" r="0.9"/><circle cx="867.9" cy="43.5" r="4.1"/><circle cx="881.8" cy="21.1" r="2.0"/><circle cx="887.6" cy="17.0" r="3.0"/><circle cx="894.2" cy="25.1" r="5.3"/><circle cx="906.1" cy="27.5" r="3.0"/><circle cx="879.4" cy="33.9" r="1.7"/><circle cx="909.7" cy="45.0" r="3.4"/><circle cx="903.7" cy="49.0" r="0.9"/><circle cx="922.0" cy="19.5" r="5.3"/><circle cx="931.2" cy="33.9" r="2.0"/><circle cx="946.3" cy="37.9" r="2.3"/><circle cx="959.4" cy="29.5" r="5.3"/><circle cx="971.8" cy="22.3" r="5.3"/><circle cx="979.8" cy="33.1" r="5.3"/><circle cx="965.4" cy="11.6" r="3.2"/><circle cx="959.8" cy="9.2" r="2.0"/><circle cx="976.6" cy="11.6" r="3.7"/><circle cx="992.5" cy="17.6" r="1.7"/><circle cx="962.2" cy="44.2" r="4.0"/><circle cx="967.4" cy="44.2" r="4.0"/><circle cx="989.3" cy="40.3" r="4.1"/><circle cx="994.1" cy="43.5" r="4.1"/><circle cx="986.1" cy="49.0" r="3.7"/><circle cx="926.4" cy="48.2" r="3.7"/><circle cx="934.3" cy="49.4" r="3.7"/><circle cx="951.1" cy="49.0" r="1.7"/><circle cx="980.6" cy="41.1" r="0.9"/><circle cx="994.9" cy="49.8" r="3.2"/><circle cx="850.8" cy="59.4" r="3.0"/><circle cx="849.6" cy="68.4" r="2.7"/><circle cx="864.3" cy="72.9" r="2.7"/><circle cx="855.9" cy="75.7" r="0.9"/><circle cx="879.0" cy="59.4" r="4.1"/><circle cx="887.8" cy="74.1" r="1.2"/><circle cx="879.8" cy="89.2" r="0.9"/><circle cx="887.0" cy="89.6" r="0.9"/><circle cx="850.4" cy="88.8" r="4.1"/><circle cx="903.7" cy="59.6" r="3.0"/><circle cx="909.7" cy="80.9" r="6.3"/><circle cx="915.7" cy="92.0" r="6.3"/><circle cx="905.7" cy="94.0" r="4.1"/><circle cx="922.4" cy="55.0" r="5.8"/><circle cx="924.0" cy="62.2" r="4.0"/><circle cx="932.0" cy="63.4" r="3.7"/><circle cx="935.5" cy="70.9" r="3.7"/><circle cx="934.3" cy="52.2" r="4.0"/><circle cx="922.4" cy="73.7" r="2.0"/><circle cx="945.5" cy="67.7" r="4.7"/><circle cx="951.9" cy="62.6" r="3.7"/><circle cx="946.7" cy="75.3" r="4.1"/><circle cx="939.9" cy="80.1" r="3.7"/><circle cx="965.4" cy="55.0" r="4.1"/><circle cx="970.2" cy="58.6" r="4.0"/><circle cx="967.0" cy="66.9" r="1.7"/><circle cx="959.8" cy="76.1" r="5.3"/><circle cx="953.5" cy="83.7" r="5.3"/><circle cx="945.9" cy="87.3" r="2.7"/><circle cx="928.0" cy="92.4" r="5.3"/><circle cx="941.5" cy="94.0" r="4.1"/><circle cx="920.0" cy="92.4" r="3.7"/><circle cx="986.1" cy="52.2" r="3.7"/><circle cx="994.9" cy="51.8" r="3.2"/><circle cx="984.5" cy="84.9" r="6.8"/><circle cx="987.7" cy="76.1" r="5.5"/><circle cx="980.6" cy="76.5" r="4.7"/><circle cx="974.2" cy="76.9" r="5.5"/><circle cx="969.4" cy="82.1" r="6.1"/><circle cx="966.2" cy="87.3" r="6.3"/><circle cx="973.0" cy="95.6" r="8.3"/><circle cx="995.7" cy="74.1" r="4.1"/><circle cx="994.5" cy="82.9" r="3.7"/><circle cx="994.1" cy="90.0" r="3.2"/><circle cx="605.3" cy="133.5" r="3.6"/><circle cx="655.5" cy="168.5" r="1.9"/><circle cx="721.0" cy="127.9" r="1.5"/><circle cx="750.6" cy="125.8" r="1.9"/><circle cx="697.8" cy="142.5" r="2.3"/><circle cx="762.4" cy="146.2" r="2.5"/><circle cx="794.4" cy="178.5" r="1.9"/><circle cx="808.0" cy="122.8" r="5.4"/><circle cx="805.9" cy="96.8" r="1.9"/><circle cx="827.4" cy="116.4" r="2.8"/><circle cx="833.3" cy="111.6" r="2.8"/><circle cx="837.8" cy="124.7" r="2.5"/><circle cx="837.0" cy="173.0" r="4.3"/><circle cx="855.9" cy="102.8" r="4.7"/><circle cx="844.8" cy="105.6" r="1.2"/><circle cx="867.1" cy="102.4" r="2.7"/><circle cx="859.9" cy="121.5" r="0.9"/><circle cx="879.4" cy="109.5" r="5.5"/><circle cx="888.6" cy="112.3" r="5.5"/><circle cx="884.2" cy="123.9" r="3.7"/><circle cx="875.1" cy="127.9" r="2.0"/><circle cx="867.9" cy="134.2" r="4.0"/><circle cx="899.8" cy="130.3" r="7.0"/><circle cx="904.5" cy="137.4" r="4.7"/><circle cx="917.7" cy="117.5" r="4.1"/><circle cx="917.7" cy="125.5" r="4.0"/><circle cx="906.1" cy="96.8" r="3.7"/><circle cx="915.7" cy="96.8" r="4.1"/><circle cx="950.3" cy="109.9" r="5.5"/><circle cx="947.1" cy="111.9" r="4.1"/><circle cx="939.9" cy="116.3" r="5.3"/><circle cx="941.5" cy="123.9" r="5.3"/><circle cx="948.7" cy="120.7" r="3.4"/><circle cx="932.7" cy="122.7" r="2.3"/><circle cx="966.2" cy="114.7" r="4.7"/><circle cx="959.8" cy="119.9" r="3.7"/><circle cx="958.2" cy="115.1" r="3.2"/><circle cx="986.1" cy="110.7" r="6.8"/><circle cx="994.9" cy="115.9" r="6.3"/><circle cx="994.1" cy="121.5" r="4.1"/><circle cx="976.6" cy="123.9" r="5.0"/><circle cx="973.4" cy="127.9" r="3.7"/><circle cx="986.1" cy="128.3" r="4.7"/><circle cx="963.8" cy="130.3" r="3.0"/><circle cx="943.1" cy="135.8" r="4.7"/><circle cx="966.2" cy="138.2" r="5.3"/><circle cx="979.8" cy="137.0" r="4.0"/><circle cx="955.9" cy="139.8" r="4.0"/><circle cx="965.4" cy="123.9" r="0.9"/><circle cx="852.0" cy="158.1" r="3.4"/><circle cx="864.3" cy="170.9" r="7.1"/><circle cx="851.2" cy="181.6" r="6.3"/><circle cx="887.8" cy="145.0" r="4.1"/><circle cx="894.2" cy="145.0" r="2.7"/><circle cx="881.0" cy="154.5" r="3.7"/><circle cx="890.2" cy="155.7" r="3.0"/><circle cx="885.8" cy="162.1" r="3.7"/><circle cx="895.8" cy="163.7" r="3.5"/><circle cx="897.4" cy="151.4" r="0.9"/><circle cx="904.5" cy="141.8" r="3.2"/><circle cx="916.1" cy="167.7" r="4.1"/><circle cx="902.2" cy="181.6" r="4.0"/><circle cx="911.7" cy="179.6" r="3.5"/><circle cx="887.8" cy="182.4" r="2.7"/><circle cx="979.8" cy="147.8" r="4.4"/><circle cx="928.0" cy="145.8" r="0.9"/><circle cx="932.0" cy="152.2" r="0.9"/><circle cx="928.0" cy="158.5" r="0.9"/><circle cx="955.9" cy="156.9" r="6.3"/><circle cx="948.7" cy="162.9" r="5.5"/><circle cx="968.2" cy="157.3" r="4.0"/><circle cx="985.7" cy="159.7" r="3.5"/><circle cx="929.6" cy="168.1" r="2.8"/><circle cx="933.9" cy="174.5" r="2.7"/><circle cx="957.1" cy="170.1" r="2.4"/><circle cx="975.8" cy="174.9" r="5.0"/><circle cx="988.1" cy="174.5" r="4.8"/><circle cx="963.8" cy="183.6" r="2.3"/><circle cx="943.1" cy="184.0" r="5.3"/><circle cx="935.9" cy="185.2" r="3.7"/><circle cx="950.3" cy="185.6" r="3.7"/><circle cx="996.5" cy="160.9" r="0.9"/><circle cx="576.6" cy="210.2" r="7.8"/><circle cx="642.7" cy="202.4" r="1.9"/><circle cx="655.1" cy="274.4" r="1.9"/><circle cx="772.4" cy="192.4" r="1.9"/><circle cx="825.0" cy="194.0" r="4.3"/><circle cx="837.8" cy="190.0" r="3.4"/><circle cx="833.8" cy="230.6" r="1.3"/><circle cx="794.1" cy="264.1" r="3.6"/><circle cx="885.7" cy="195.9" r="3.3"/><circle cx="867.9" cy="208.6" r="4.0"/><circle cx="887.8" cy="209.4" r="3.4"/><circle cx="920.5" cy="187.9" r="1.9"/><circle cx="932.1" cy="201.9" r="1.9"/><circle cx="936.9" cy="209.9" r="1.9"/><circle cx="945.2" cy="211.5" r="0.8"/><circle cx="947.1" cy="188.9" r="5.4"/><circle cx="950.8" cy="194.0" r="4.3"/><circle cx="938.8" cy="186.8" r="3.7"/><circle cx="988.2" cy="199.5" r="3.0"/><circle cx="994.3" cy="212.8" r="1.5"/><circle cx="897.4" cy="225.8" r="3.0"/><circle cx="895.0" cy="229.0" r="0.8"/><circle cx="906.1" cy="221.4" r="1.9"/><circle cx="916.2" cy="220.7" r="0.8"/><circle cx="927.6" cy="224.2" r="2.1"/><circle cx="947.3" cy="228.5" r="2.5"/><circle cx="969.1" cy="232.2" r="4.0"/><circle cx="974.7" cy="246.1" r="3.0"/><circle cx="906.9" cy="256.1" r="3.4"/><circle cx="911.7" cy="260.9" r="4.1"/><circle cx="881.9" cy="258.5" r="1.1"/><circle cx="935.6" cy="272.9" r="2.5"/><circle cx="986.6" cy="274.4" r="1.5"/><circle cx="602.5" cy="307.4" r="1.5"/><circle cx="518.1" cy="352.5" r="2.5"/><circle cx="838.6" cy="286.4" r="3.7"/><circle cx="815.5" cy="303.6" r="3.0"/><circle cx="751.7" cy="339.3" r="3.0"/><circle cx="794.3" cy="360.1" r="1.9"/><circle cx="982.2" cy="293.2" r="2.8"/><circle cx="971.0" cy="305.5" r="2.8"/><circle cx="920.0" cy="341.0" r="3.7"/><circle cx="958.4" cy="342.9" r="4.3"/><circle cx="608.8" cy="388.8" r="2.1"/><circle cx="550.0" cy="436.9" r="2.3"/><circle cx="736.9" cy="369.5" r="3.4"/><circle cx="739.0" cy="409.3" r="0.8"/><circle cx="772.4" cy="437.4" r="3.6"/><circle cx="828.5" cy="419.1" r="4.8"/><circle cx="819.9" cy="431.7" r="3.7"/><circle cx="817.4" cy="427.4" r="1.9"/><circle cx="838.6" cy="452.9" r="2.5"/><circle cx="957.9" cy="381.5" r="3.2"/><circle cx="920.5" cy="412.5" r="4.3"/><circle cx="993.8" cy="431.0" r="3.0"/><circle cx="900.1" cy="449.3" r="3.4"/><circle cx="840.2" cy="453.0" r="1.9"/><circle cx="996.3" cy="460.7" r="3.0"/></g>
<g fill="#c62c7c" filter="url(#goo)"><circle cx="646.7" cy="11.6" r="1.0"/><circle cx="586.9" cy="84.6" r="2.6"/><circle cx="520.0" cy="8.4" r="1.0"/><circle cx="680.8" cy="10.8" r="2.6"/><circle cx="710.3" cy="24.0" r="3.0"/><circle cx="742.2" cy="57.8" r="4.0"/><circle cx="780.1" cy="26.4" r="3.4"/><circle cx="808.0" cy="12.4" r="5.1"/><circle cx="816.3" cy="21.5" r="3.4"/><circle cx="818.6" cy="31.2" r="1.9"/><circle cx="813.9" cy="40.3" r="3.0"/><circle cx="821.5" cy="44.2" r="2.6"/><circle cx="803.8" cy="47.1" r="5.1"/><circle cx="833.3" cy="39.1" r="1.0"/><circle cx="683.5" cy="84.9" r="3.0"/><circle cx="714.3" cy="92.9" r="1.4"/><circle cx="805.9" cy="94.1" r="2.6"/><circle cx="841.6" cy="21.1" r="5.0"/><circle cx="859.1" cy="20.7" r="0.5"/><circle cx="867.9" cy="43.5" r="3.8"/><circle cx="881.8" cy="21.1" r="1.2"/><circle cx="887.6" cy="17.0" r="2.6"/><circle cx="894.2" cy="25.1" r="5.0"/><circle cx="906.1" cy="27.5" r="2.6"/><circle cx="879.4" cy="33.9" r="0.5"/><circle cx="909.7" cy="45.0" r="3.1"/><circle cx="922.0" cy="19.5" r="5.0"/><circle cx="931.2" cy="33.9" r="1.2"/><circle cx="946.3" cy="37.9" r="1.7"/><circle cx="959.4" cy="29.5" r="5.0"/><circle cx="971.8" cy="22.3" r="5.0"/><circle cx="979.8" cy="33.1" r="5.0"/><circle cx="965.4" cy="11.6" r="2.8"/><circle cx="959.8" cy="9.2" r="1.2"/><circle cx="976.6" cy="11.6" r="3.4"/><circle cx="992.5" cy="17.6" r="0.5"/><circle cx="962.2" cy="44.2" r="3.7"/><circle cx="967.4" cy="44.2" r="3.7"/><circle cx="989.3" cy="40.3" r="3.8"/><circle cx="994.1" cy="43.5" r="3.8"/><circle cx="986.1" cy="49.0" r="3.4"/><circle cx="926.4" cy="48.2" r="3.4"/><circle cx="934.3" cy="49.4" r="3.4"/><circle cx="951.1" cy="49.0" r="0.5"/><circle cx="994.9" cy="49.8" r="2.8"/><circle cx="850.8" cy="59.4" r="2.6"/><circle cx="849.6" cy="68.4" r="2.2"/><circle cx="864.3" cy="72.9" r="2.2"/><circle cx="879.0" cy="59.4" r="3.8"/><circle cx="850.4" cy="88.8" r="3.8"/><circle cx="903.7" cy="59.6" r="2.6"/><circle cx="909.7" cy="80.9" r="6.1"/><circle cx="915.7" cy="92.0" r="6.1"/><circle cx="905.7" cy="94.0" r="3.8"/><circle cx="922.4" cy="55.0" r="5.6"/><circle cx="924.0" cy="62.2" r="3.7"/><circle cx="932.0" cy="63.4" r="3.4"/><circle cx="935.5" cy="70.9" r="3.4"/><circle cx="934.3" cy="52.2" r="3.7"/><circle cx="922.4" cy="73.7" r="1.2"/><circle cx="945.5" cy="67.7" r="4.4"/><circle cx="951.9" cy="62.6" r="3.4"/><circle cx="946.7" cy="75.3" r="3.8"/><circle cx="939.9" cy="80.1" r="3.4"/><circle cx="965.4" cy="55.0" r="3.8"/><circle cx="970.2" cy="58.6" r="3.7"/><circle cx="967.0" cy="66.9" r="0.5"/><circle cx="959.8" cy="76.1" r="5.0"/><circle cx="953.5" cy="83.7" r="5.0"/><circle cx="945.9" cy="87.3" r="2.2"/><circle cx="928.0" cy="92.4" r="5.0"/><circle cx="941.5" cy="94.0" r="3.8"/><circle cx="920.0" cy="92.4" r="3.4"/><circle cx="986.1" cy="52.2" r="3.4"/><circle cx="994.9" cy="51.8" r="2.8"/><circle cx="984.5" cy="84.9" r="6.6"/><circle cx="987.7" cy="76.1" r="5.2"/><circle cx="980.6" cy="76.5" r="4.4"/><circle cx="974.2" cy="76.9" r="5.2"/><circle cx="969.4" cy="82.1" r="5.9"/><circle cx="966.2" cy="87.3" r="6.1"/><circle cx="973.0" cy="95.6" r="8.2"/><circle cx="995.7" cy="74.1" r="3.8"/><circle cx="994.5" cy="82.9" r="3.4"/><circle cx="994.1" cy="90.0" r="2.8"/><circle cx="605.3" cy="133.5" r="3.3"/><circle cx="655.5" cy="168.5" r="1.0"/><circle cx="750.6" cy="125.8" r="1.0"/><circle cx="697.8" cy="142.5" r="1.6"/><circle cx="762.4" cy="146.2" r="1.9"/><circle cx="794.4" cy="178.5" r="1.0"/><circle cx="808.0" cy="122.8" r="5.1"/><circle cx="805.9" cy="96.8" r="1.0"/><circle cx="827.4" cy="116.4" r="2.3"/><circle cx="833.3" cy="111.6" r="2.3"/><circle cx="837.8" cy="124.7" r="1.9"/><circle cx="837.0" cy="173.0" r="4.0"/><circle cx="855.9" cy="102.8" r="4.4"/><circle cx="867.1" cy="102.4" r="2.2"/><circle cx="879.4" cy="109.5" r="5.2"/><circle cx="888.6" cy="112.3" r="5.2"/><circle cx="884.2" cy="123.9" r="3.4"/><circle cx="875.1" cy="127.9" r="1.2"/><circle cx="867.9" cy="134.2" r="3.7"/><circle cx="899.8" cy="130.3" r="6.8"/><circle cx="904.5" cy="137.4" r="4.4"/><circle cx="917.7" cy="117.5" r="3.8"/><circle cx="917.7" cy="125.5" r="3.7"/><circle cx="906.1" cy="96.8" r="3.4"/><circle cx="915.7" cy="96.8" r="3.8"/><circle cx="950.3" cy="109.9" r="5.2"/><circle cx="947.1" cy="111.9" r="3.8"/><circle cx="939.9" cy="116.3" r="5.0"/><circle cx="941.5" cy="123.9" r="5.0"/><circle cx="948.7" cy="120.7" r="3.1"/><circle cx="932.7" cy="122.7" r="1.7"/><circle cx="966.2" cy="114.7" r="4.4"/><circle cx="959.8" cy="119.9" r="3.4"/><circle cx="958.2" cy="115.1" r="2.8"/><circle cx="986.1" cy="110.7" r="6.6"/><circle cx="994.9" cy="115.9" r="6.1"/><circle cx="994.1" cy="121.5" r="3.8"/><circle cx="976.6" cy="123.9" r="4.8"/><circle cx="973.4" cy="127.9" r="3.4"/><circle cx="986.1" cy="128.3" r="4.4"/><circle cx="963.8" cy="130.3" r="2.6"/><circle cx="943.1" cy="135.8" r="4.4"/><circle cx="966.2" cy="138.2" r="5.0"/><circle cx="979.8" cy="137.0" r="3.7"/><circle cx="955.9" cy="139.8" r="3.7"/><circle cx="852.0" cy="158.1" r="3.1"/><circle cx="864.3" cy="170.9" r="6.9"/><circle cx="851.2" cy="181.6" r="6.1"/><circle cx="887.8" cy="145.0" r="3.8"/><circle cx="894.2" cy="145.0" r="2.2"/><circle cx="881.0" cy="154.5" r="3.4"/><circle cx="890.2" cy="155.7" r="2.6"/><circle cx="885.8" cy="162.1" r="3.4"/><circle cx="895.8" cy="163.7" r="3.2"/><circle cx="904.5" cy="141.8" r="2.8"/><circle cx="916.1" cy="167.7" r="3.8"/><circle cx="902.2" cy="181.6" r="3.7"/><circle cx="911.7" cy="179.6" r="3.2"/><circle cx="887.8" cy="182.4" r="2.2"/><circle cx="979.8" cy="147.8" r="4.1"/><circle cx="955.9" cy="156.9" r="6.1"/><circle cx="948.7" cy="162.9" r="5.2"/><circle cx="968.2" cy="157.3" r="3.7"/><circle cx="985.7" cy="159.7" r="3.2"/><circle cx="929.6" cy="168.1" r="2.3"/><circle cx="933.9" cy="174.5" r="2.2"/><circle cx="957.1" cy="170.1" r="1.9"/><circle cx="975.8" cy="174.9" r="4.8"/><circle cx="988.1" cy="174.5" r="4.6"/><circle cx="963.8" cy="183.6" r="1.7"/><circle cx="943.1" cy="184.0" r="5.0"/><circle cx="935.9" cy="185.2" r="3.4"/><circle cx="950.3" cy="185.6" r="3.4"/><circle cx="576.6" cy="210.2" r="7.6"/><circle cx="642.7" cy="202.4" r="1.0"/><circle cx="655.1" cy="274.4" r="1.0"/><circle cx="772.4" cy="192.4" r="1.0"/><circle cx="825.0" cy="194.0" r="4.0"/><circle cx="837.8" cy="190.0" r="3.0"/><circle cx="794.1" cy="264.1" r="3.3"/><circle cx="885.7" cy="195.9" r="2.8"/><circle cx="867.9" cy="208.6" r="3.6"/><circle cx="887.8" cy="209.4" r="3.0"/><circle cx="920.5" cy="187.9" r="1.0"/><circle cx="932.1" cy="201.9" r="1.0"/><circle cx="936.9" cy="209.9" r="1.0"/><circle cx="947.1" cy="188.9" r="5.1"/><circle cx="950.8" cy="194.0" r="4.0"/><circle cx="938.8" cy="186.8" r="3.4"/><circle cx="988.2" cy="199.5" r="2.6"/><circle cx="897.4" cy="225.8" r="2.6"/><circle cx="906.1" cy="221.4" r="1.0"/><circle cx="927.6" cy="224.2" r="1.4"/><circle cx="947.3" cy="228.5" r="1.9"/><circle cx="969.1" cy="232.2" r="3.6"/><circle cx="974.7" cy="246.1" r="2.6"/><circle cx="906.9" cy="256.1" r="3.0"/><circle cx="911.7" cy="260.9" r="3.8"/><circle cx="935.6" cy="272.9" r="1.9"/><circle cx="518.1" cy="352.5" r="1.9"/><circle cx="838.6" cy="286.4" r="3.4"/><circle cx="815.5" cy="303.6" r="2.6"/><circle cx="751.7" cy="339.3" r="2.6"/><circle cx="794.3" cy="360.1" r="1.0"/><circle cx="982.2" cy="293.2" r="2.3"/><circle cx="971.0" cy="305.5" r="2.3"/><circle cx="920.0" cy="341.0" r="3.4"/><circle cx="958.4" cy="342.9" r="4.0"/><circle cx="608.8" cy="388.8" r="1.4"/><circle cx="550.0" cy="436.9" r="1.6"/><circle cx="736.9" cy="369.5" r="3.0"/><circle cx="772.4" cy="437.4" r="3.3"/><circle cx="828.5" cy="419.1" r="4.6"/><circle cx="819.9" cy="431.7" r="3.4"/><circle cx="817.4" cy="427.4" r="1.0"/><circle cx="838.6" cy="452.9" r="1.9"/><circle cx="957.9" cy="381.5" r="2.8"/><circle cx="920.5" cy="412.5" r="4.0"/><circle cx="993.8" cy="431.0" r="2.6"/><circle cx="900.1" cy="449.3" r="3.0"/><circle cx="840.2" cy="453.0" r="1.0"/><circle cx="996.3" cy="460.7" r="2.6"/></g>
<g fill="#ee3340" filter="url(#goo)"><circle cx="586.9" cy="84.6" r="1.9"/><circle cx="680.8" cy="10.8" r="1.9"/><circle cx="710.3" cy="24.0" r="2.5"/><circle cx="742.2" cy="57.8" r="3.6"/><circle cx="780.1" cy="26.4" r="2.9"/><circle cx="808.0" cy="12.4" r="4.8"/><circle cx="816.3" cy="21.5" r="2.9"/><circle cx="818.6" cy="31.2" r="0.9"/><circle cx="813.9" cy="40.3" r="2.5"/><circle cx="821.5" cy="44.2" r="1.9"/><circle cx="803.8" cy="47.1" r="4.8"/><circle cx="683.5" cy="84.9" r="2.5"/><circle cx="805.9" cy="94.1" r="1.9"/><circle cx="841.6" cy="21.1" r="4.7"/><circle cx="867.9" cy="43.5" r="3.4"/><circle cx="887.6" cy="17.0" r="1.9"/><circle cx="894.2" cy="25.1" r="4.7"/><circle cx="906.1" cy="27.5" r="1.9"/><circle cx="909.7" cy="45.0" r="2.5"/><circle cx="922.0" cy="19.5" r="4.7"/><circle cx="959.4" cy="29.5" r="4.7"/><circle cx="971.8" cy="22.3" r="4.7"/><circle cx="979.8" cy="33.1" r="4.7"/><circle cx="965.4" cy="11.6" r="2.2"/><circle cx="976.6" cy="11.6" r="2.9"/><circle cx="962.2" cy="44.2" r="3.2"/><circle cx="967.4" cy="44.2" r="3.2"/><circle cx="989.3" cy="40.3" r="3.4"/><circle cx="994.1" cy="43.5" r="3.4"/><circle cx="986.1" cy="49.0" r="2.9"/><circle cx="926.4" cy="48.2" r="2.9"/><circle cx="934.3" cy="49.4" r="2.9"/><circle cx="994.9" cy="49.8" r="2.2"/><circle cx="850.8" cy="59.4" r="1.9"/><circle cx="849.6" cy="68.4" r="1.3"/><circle cx="864.3" cy="72.9" r="1.3"/><circle cx="879.0" cy="59.4" r="3.4"/><circle cx="850.4" cy="88.8" r="3.4"/><circle cx="903.7" cy="59.6" r="1.9"/><circle cx="909.7" cy="80.9" r="5.9"/><circle cx="915.7" cy="92.0" r="5.9"/><circle cx="905.7" cy="94.0" r="3.4"/><circle cx="922.4" cy="55.0" r="5.3"/><circle cx="924.0" cy="62.2" r="3.2"/><circle cx="932.0" cy="63.4" r="2.9"/><circle cx="935.5" cy="70.9" r="2.9"/><circle cx="934.3" cy="52.2" r="3.2"/><circle cx="945.5" cy="67.7" r="4.1"/><circle cx="951.9" cy="62.6" r="2.9"/><circle cx="946.7" cy="75.3" r="3.4"/><circle cx="939.9" cy="80.1" r="2.9"/><circle cx="965.4" cy="55.0" r="3.4"/><circle cx="970.2" cy="58.6" r="3.2"/><circle cx="959.8" cy="76.1" r="4.7"/><circle cx="953.5" cy="83.7" r="4.7"/><circle cx="945.9" cy="87.3" r="1.3"/><circle cx="928.0" cy="92.4" r="4.7"/><circle cx="941.5" cy="94.0" r="3.4"/><circle cx="920.0" cy="92.4" r="2.9"/><circle cx="986.1" cy="52.2" r="2.9"/><circle cx="994.9" cy="51.8" r="2.2"/><circle cx="984.5" cy="84.9" r="6.4"/><circle cx="987.7" cy="76.1" r="4.9"/><circle cx="980.6" cy="76.5" r="4.1"/><circle cx="974.2" cy="76.9" r="4.9"/><circle cx="969.4" cy="82.1" r="5.6"/><circle cx="966.2" cy="87.3" r="5.9"/><circle cx="973.0" cy="95.6" r="8.0"/><circle cx="995.7" cy="74.1" r="3.4"/><circle cx="994.5" cy="82.9" r="2.9"/><circle cx="994.1" cy="90.0" r="2.2"/><circle cx="605.3" cy="133.5" r="2.8"/><circle cx="762.4" cy="146.2" r="0.9"/><circle cx="808.0" cy="122.8" r="4.8"/><circle cx="827.4" cy="116.4" r="1.6"/><circle cx="833.3" cy="111.6" r="1.6"/><circle cx="837.8" cy="124.7" r="0.9"/><circle cx="837.0" cy="173.0" r="3.6"/><circle cx="855.9" cy="102.8" r="4.1"/><circle cx="867.1" cy="102.4" r="1.3"/><circle cx="879.4" cy="109.5" r="4.9"/><circle cx="888.6" cy="112.3" r="4.9"/><circle cx="884.2" cy="123.9" r="2.9"/><circle cx="867.9" cy="134.2" r="3.2"/><circle cx="899.8" cy="130.3" r="6.6"/><circle cx="904.5" cy="137.4" r="4.1"/><circle cx="917.7" cy="117.5" r="3.4"/><circle cx="917.7" cy="125.5" r="3.2"/><circle cx="906.1" cy="96.8" r="2.9"/><circle cx="915.7" cy="96.8" r="3.4"/><circle cx="950.3" cy="109.9" r="4.9"/><circle cx="947.1" cy="111.9" r="3.4"/><circle cx="939.9" cy="116.3" r="4.7"/><circle cx="941.5" cy="123.9" r="4.7"/><circle cx="948.7" cy="120.7" r="2.5"/><circle cx="966.2" cy="114.7" r="4.1"/><circle cx="959.8" cy="119.9" r="2.9"/><circle cx="958.2" cy="115.1" r="2.2"/><circle cx="986.1" cy="110.7" r="6.4"/><circle cx="994.9" cy="115.9" r="5.9"/><circle cx="994.1" cy="121.5" r="3.4"/><circle cx="976.6" cy="123.9" r="4.5"/><circle cx="973.4" cy="127.9" r="2.9"/><circle cx="986.1" cy="128.3" r="4.1"/><circle cx="963.8" cy="130.3" r="1.9"/><circle cx="943.1" cy="135.8" r="4.1"/><circle cx="966.2" cy="138.2" r="4.7"/><circle cx="979.8" cy="137.0" r="3.2"/><circle cx="955.9" cy="139.8" r="3.2"/><circle cx="852.0" cy="158.1" r="2.5"/><circle cx="864.3" cy="170.9" r="6.7"/><circle cx="851.2" cy="181.6" r="5.9"/><circle cx="887.8" cy="145.0" r="3.4"/><circle cx="894.2" cy="145.0" r="1.3"/><circle cx="881.0" cy="154.5" r="2.9"/><circle cx="890.2" cy="155.7" r="1.9"/><circle cx="885.8" cy="162.1" r="2.9"/><circle cx="895.8" cy="163.7" r="2.7"/><circle cx="904.5" cy="141.8" r="2.2"/><circle cx="916.1" cy="167.7" r="3.4"/><circle cx="902.2" cy="181.6" r="3.2"/><circle cx="911.7" cy="179.6" r="2.7"/><circle cx="887.8" cy="182.4" r="1.3"/><circle cx="979.8" cy="147.8" r="3.7"/><circle cx="955.9" cy="156.9" r="5.9"/><circle cx="948.7" cy="162.9" r="4.9"/><circle cx="968.2" cy="157.3" r="3.2"/><circle cx="985.7" cy="159.7" r="2.7"/><circle cx="929.6" cy="168.1" r="1.6"/><circle cx="933.9" cy="174.5" r="1.3"/><circle cx="957.1" cy="170.1" r="0.7"/><circle cx="975.8" cy="174.9" r="4.5"/><circle cx="988.1" cy="174.5" r="4.2"/><circle cx="943.1" cy="184.0" r="4.7"/><circle cx="935.9" cy="185.2" r="2.9"/><circle cx="950.3" cy="185.6" r="2.9"/><circle cx="576.6" cy="210.2" r="7.4"/><circle cx="825.0" cy="194.0" r="3.6"/><circle cx="837.8" cy="190.0" r="2.5"/><circle cx="794.1" cy="264.1" r="2.8"/><circle cx="885.7" cy="195.9" r="2.3"/><circle cx="867.9" cy="208.6" r="3.2"/><circle cx="887.8" cy="209.4" r="2.5"/><circle cx="947.1" cy="188.9" r="4.8"/><circle cx="950.8" cy="194.0" r="3.6"/><circle cx="938.8" cy="186.8" r="2.9"/><circle cx="988.2" cy="199.5" r="1.9"/><circle cx="897.4" cy="225.8" r="1.9"/><circle cx="947.3" cy="228.5" r="0.9"/><circle cx="969.1" cy="232.2" r="3.2"/><circle cx="974.7" cy="246.1" r="1.9"/><circle cx="906.9" cy="256.1" r="2.5"/><circle cx="911.7" cy="260.9" r="3.3"/><circle cx="935.6" cy="272.9" r="0.9"/><circle cx="518.1" cy="352.5" r="0.9"/><circle cx="838.6" cy="286.4" r="2.9"/><circle cx="815.5" cy="303.6" r="1.9"/><circle cx="751.7" cy="339.3" r="1.9"/><circle cx="982.2" cy="293.2" r="1.6"/><circle cx="971.0" cy="305.5" r="1.6"/><circle cx="920.0" cy="341.0" r="2.9"/><circle cx="958.4" cy="342.9" r="3.6"/><circle cx="736.9" cy="369.5" r="2.5"/><circle cx="772.4" cy="437.4" r="2.8"/><circle cx="828.5" cy="419.1" r="4.2"/><circle cx="819.9" cy="431.7" r="2.9"/><circle cx="838.6" cy="452.9" r="0.9"/><circle cx="957.9" cy="381.5" r="2.1"/><circle cx="920.5" cy="412.5" r="3.6"/><circle cx="993.8" cy="431.0" r="1.9"/><circle cx="900.1" cy="449.3" r="2.5"/><circle cx="996.3" cy="460.7" r="1.9"/></g>
<g fill="#f4562c" filter="url(#goo)"><circle cx="586.9" cy="84.6" r="0.7"/><circle cx="680.8" cy="10.8" r="0.7"/><circle cx="710.3" cy="24.0" r="1.8"/><circle cx="742.2" cy="57.8" r="3.2"/><circle cx="780.1" cy="26.4" r="2.3"/><circle cx="808.0" cy="12.4" r="4.5"/><circle cx="816.3" cy="21.5" r="2.3"/><circle cx="813.9" cy="40.3" r="1.8"/><circle cx="821.5" cy="44.2" r="0.7"/><circle cx="803.8" cy="47.1" r="4.5"/><circle cx="683.5" cy="84.9" r="1.8"/><circle cx="805.9" cy="94.1" r="0.7"/><circle cx="841.6" cy="21.1" r="4.4"/><circle cx="867.9" cy="43.5" r="2.9"/><circle cx="887.6" cy="17.0" r="0.9"/><circle cx="894.2" cy="25.1" r="4.4"/><circle cx="906.1" cy="27.5" r="0.9"/><circle cx="909.7" cy="45.0" r="1.8"/><circle cx="922.0" cy="19.5" r="4.4"/><circle cx="959.4" cy="29.5" r="4.4"/><circle cx="971.8" cy="22.3" r="4.4"/><circle cx="979.8" cy="33.1" r="4.4"/><circle cx="965.4" cy="11.6" r="1.4"/><circle cx="976.6" cy="11.6" r="2.3"/><circle cx="962.2" cy="44.2" r="2.7"/><circle cx="967.4" cy="44.2" r="2.7"/><circle cx="989.3" cy="40.3" r="2.9"/><circle cx="994.1" cy="43.5" r="2.9"/><circle cx="986.1" cy="49.0" r="2.3"/><circle cx="926.4" cy="48.2" r="2.3"/><circle cx="934.3" cy="49.4" r="2.3"/><circle cx="994.9" cy="49.8" r="1.4"/><circle cx="850.8" cy="59.4" r="0.9"/><circle cx="879.0" cy="59.4" r="2.9"/><circle cx="850.4" cy="88.8" r="2.9"/><circle cx="903.7" cy="59.6" r="0.9"/><circle cx="909.7" cy="80.9" r="5.6"/><circle cx="915.7" cy="92.0" r="5.6"/><circle cx="905.7" cy="94.0" r="2.9"/><circle cx="922.4" cy="55.0" r="5.0"/><circle cx="924.0" cy="62.2" r="2.7"/><circle cx="932.0" cy="63.4" r="2.3"/><circle cx="935.5" cy="70.9" r="2.3"/><circle cx="934.3" cy="52.2" r="2.7"/><circle cx="945.5" cy="67.7" r="3.7"/><circle cx="951.9" cy="62.6" r="2.3"/><circle cx="946.7" cy="75.3" r="2.9"/><circle cx="939.9" cy="80.1" r="2.3"/><circle cx="965.4" cy="55.0" r="2.9"/><circle cx="970.2" cy="58.6" r="2.7"/><circle cx="959.8" cy="76.1" r="4.4"/><circle cx="953.5" cy="83.7" r="4.4"/><circle cx="928.0" cy="92.4" r="4.4"/><circle cx="941.5" cy="94.0" r="2.9"/><circle cx="920.0" cy="92.4" r="2.3"/><circle cx="986.1" cy="52.2" r="2.3"/><circle cx="994.9" cy="51.8" r="1.4"/><circle cx="984.5" cy="84.9" r="6.2"/><circle cx="987.7" cy="76.1" r="4.6"/><circle cx="980.6" cy="76.5" r="3.7"/><circle cx="974.2" cy="76.9" r="4.6"/><circle cx="969.4" cy="82.1" r="5.4"/><circle cx="966.2" cy="87.3" r="5.6"/><circle cx="973.0" cy="95.6" r="7.8"/><circle cx="995.7" cy="74.1" r="2.9"/><circle cx="994.5" cy="82.9" r="2.3"/><circle cx="994.1" cy="90.0" r="1.4"/><circle cx="605.3" cy="133.5" r="2.1"/><circle cx="808.0" cy="122.8" r="4.5"/><circle cx="837.0" cy="173.0" r="3.2"/><circle cx="855.9" cy="102.8" r="3.7"/><circle cx="879.4" cy="109.5" r="4.6"/><circle cx="888.6" cy="112.3" r="4.6"/><circle cx="884.2" cy="123.9" r="2.3"/><circle cx="867.9" cy="134.2" r="2.7"/><circle cx="899.8" cy="130.3" r="6.4"/><circle cx="904.5" cy="137.4" r="3.7"/><circle cx="917.7" cy="117.5" r="2.9"/><circle cx="917.7" cy="125.5" r="2.7"/><circle cx="906.1" cy="96.8" r="2.3"/><circle cx="915.7" cy="96.8" r="2.9"/><circle cx="950.3" cy="109.9" r="4.6"/><circle cx="947.1" cy="111.9" r="2.9"/><circle cx="939.9" cy="116.3" r="4.4"/><circle cx="941.5" cy="123.9" r="4.4"/><circle cx="948.7" cy="120.7" r="1.8"/><circle cx="966.2" cy="114.7" r="3.7"/><circle cx="959.8" cy="119.9" r="2.3"/><circle cx="958.2" cy="115.1" r="1.4"/><circle cx="986.1" cy="110.7" r="6.2"/><circle cx="994.9" cy="115.9" r="5.6"/><circle cx="994.1" cy="121.5" r="2.9"/><circle cx="976.6" cy="123.9" r="4.1"/><circle cx="973.4" cy="127.9" r="2.3"/><circle cx="986.1" cy="128.3" r="3.7"/><circle cx="963.8" cy="130.3" r="0.9"/><circle cx="943.1" cy="135.8" r="3.7"/><circle cx="966.2" cy="138.2" r="4.4"/><circle cx="979.8" cy="137.0" r="2.7"/><circle cx="955.9" cy="139.8" r="2.7"/><circle cx="852.0" cy="158.1" r="1.8"/><circle cx="864.3" cy="170.9" r="6.5"/><circle cx="851.2" cy="181.6" r="5.6"/><circle cx="887.8" cy="145.0" r="2.9"/><circle cx="881.0" cy="154.5" r="2.3"/><circle cx="890.2" cy="155.7" r="0.9"/><circle cx="885.8" cy="162.1" r="2.3"/><circle cx="895.8" cy="163.7" r="2.0"/><circle cx="904.5" cy="141.8" r="1.4"/><circle cx="916.1" cy="167.7" r="2.9"/><circle cx="902.2" cy="181.6" r="2.7"/><circle cx="911.7" cy="179.6" r="2.0"/><circle cx="979.8" cy="147.8" r="3.3"/><circle cx="955.9" cy="156.9" r="5.6"/><circle cx="948.7" cy="162.9" r="4.6"/><circle cx="968.2" cy="157.3" r="2.7"/><circle cx="985.7" cy="159.7" r="2.0"/><circle cx="975.8" cy="174.9" r="4.1"/><circle cx="988.1" cy="174.5" r="3.8"/><circle cx="943.1" cy="184.0" r="4.4"/><circle cx="935.9" cy="185.2" r="2.3"/><circle cx="950.3" cy="185.6" r="2.3"/><circle cx="576.6" cy="210.2" r="7.2"/><circle cx="825.0" cy="194.0" r="3.2"/><circle cx="837.8" cy="190.0" r="1.8"/><circle cx="794.1" cy="264.1" r="2.1"/><circle cx="885.7" cy="195.9" r="1.4"/><circle cx="867.9" cy="208.6" r="2.7"/><circle cx="887.8" cy="209.4" r="1.8"/><circle cx="947.1" cy="188.9" r="4.5"/><circle cx="950.8" cy="194.0" r="3.2"/><circle cx="938.8" cy="186.8" r="2.3"/><circle cx="988.2" cy="199.5" r="0.7"/><circle cx="897.4" cy="225.8" r="0.7"/><circle cx="969.1" cy="232.2" r="2.7"/><circle cx="974.7" cy="246.1" r="0.7"/><circle cx="906.9" cy="256.1" r="1.8"/><circle cx="911.7" cy="260.9" r="2.9"/><circle cx="838.6" cy="286.4" r="2.3"/><circle cx="815.5" cy="303.6" r="0.7"/><circle cx="751.7" cy="339.3" r="0.7"/><circle cx="920.0" cy="341.0" r="2.3"/><circle cx="958.4" cy="342.9" r="3.2"/><circle cx="736.9" cy="369.5" r="1.8"/><circle cx="772.4" cy="437.4" r="2.1"/><circle cx="828.5" cy="419.1" r="3.9"/><circle cx="819.9" cy="431.7" r="2.3"/><circle cx="957.9" cy="381.5" r="1.3"/><circle cx="920.5" cy="412.5" r="3.2"/><circle cx="993.8" cy="431.0" r="0.7"/><circle cx="900.1" cy="449.3" r="1.8"/><circle cx="996.3" cy="460.7" r="0.9"/></g>
<g fill="#f9862c" filter="url(#goo)"><circle cx="742.2" cy="57.8" r="2.7"/><circle cx="780.1" cy="26.4" r="1.6"/><circle cx="808.0" cy="12.4" r="4.1"/><circle cx="816.3" cy="21.5" r="1.6"/><circle cx="803.8" cy="47.1" r="4.1"/><circle cx="841.6" cy="21.1" r="4.0"/><circle cx="867.9" cy="43.5" r="2.4"/><circle cx="894.2" cy="25.1" r="4.0"/><circle cx="909.7" cy="45.0" r="0.6"/><circle cx="922.0" cy="19.5" r="4.0"/><circle cx="959.4" cy="29.5" r="4.0"/><circle cx="971.8" cy="22.3" r="4.0"/><circle cx="979.8" cy="33.1" r="4.0"/><circle cx="976.6" cy="11.6" r="1.5"/><circle cx="962.2" cy="44.2" r="2.1"/><circle cx="967.4" cy="44.2" r="2.1"/><circle cx="989.3" cy="40.3" r="2.4"/><circle cx="994.1" cy="43.5" r="2.4"/><circle cx="986.1" cy="49.0" r="1.5"/><circle cx="926.4" cy="48.2" r="1.5"/><circle cx="934.3" cy="49.4" r="1.5"/><circle cx="879.0" cy="59.4" r="2.4"/><circle cx="850.4" cy="88.8" r="2.4"/><circle cx="909.7" cy="80.9" r="5.3"/><circle cx="915.7" cy="92.0" r="5.3"/><circle cx="905.7" cy="94.0" r="2.4"/><circle cx="922.4" cy="55.0" r="4.7"/><circle cx="924.0" cy="62.2" r="2.1"/><circle cx="932.0" cy="63.4" r="1.5"/><circle cx="935.5" cy="70.9" r="1.5"/><circle cx="934.3" cy="52.2" r="2.1"/><circle cx="945.5" cy="67.7" r="3.3"/><circle cx="951.9" cy="62.6" r="1.5"/><circle cx="946.7" cy="75.3" r="2.4"/><circle cx="939.9" cy="80.1" r="1.5"/><circle cx="965.4" cy="55.0" r="2.4"/><circle cx="970.2" cy="58.6" r="2.1"/><circle cx="959.8" cy="76.1" r="4.0"/><circle cx="953.5" cy="83.7" r="4.0"/><circle cx="928.0" cy="92.4" r="4.0"/><circle cx="941.5" cy="94.0" r="2.4"/><circle cx="920.0" cy="92.4" r="1.5"/><circle cx="986.1" cy="52.2" r="1.5"/><circle cx="984.5" cy="84.9" r="5.9"/><circle cx="987.7" cy="76.1" r="4.3"/><circle cx="980.6" cy="76.5" r="3.3"/><circle cx="974.2" cy="76.9" r="4.3"/><circle cx="969.4" cy="82.1" r="5.1"/><circle cx="966.2" cy="87.3" r="5.3"/><circle cx="973.0" cy="95.6" r="7.6"/><circle cx="995.7" cy="74.1" r="2.4"/><circle cx="994.5" cy="82.9" r="1.5"/><circle cx="605.3" cy="133.5" r="1.3"/><circle cx="808.0" cy="122.8" r="4.1"/><circle cx="837.0" cy="173.0" r="2.7"/><circle cx="855.9" cy="102.8" r="3.3"/><circle cx="879.4" cy="109.5" r="4.3"/><circle cx="888.6" cy="112.3" r="4.3"/><circle cx="884.2" cy="123.9" r="1.5"/><circle cx="867.9" cy="134.2" r="2.1"/><circle cx="899.8" cy="130.3" r="6.1"/><circle cx="904.5" cy="137.4" r="3.3"/><circle cx="917.7" cy="117.5" r="2.4"/><circle cx="917.7" cy="125.5" r="2.1"/><circle cx="906.1" cy="96.8" r="1.5"/><circle cx="915.7" cy="96.8" r="2.4"/><circle cx="950.3" cy="109.9" r="4.3"/><circle cx="947.1" cy="111.9" r="2.4"/><circle cx="939.9" cy="116.3" r="4.0"/><circle cx="941.5" cy="123.9" r="4.0"/><circle cx="948.7" cy="120.7" r="0.6"/><circle cx="966.2" cy="114.7" r="3.3"/><circle cx="959.8" cy="119.9" r="1.5"/><circle cx="986.1" cy="110.7" r="5.9"/><circle cx="994.9" cy="115.9" r="5.3"/><circle cx="994.1" cy="121.5" r="2.4"/><circle cx="976.6" cy="123.9" r="3.7"/><circle cx="973.4" cy="127.9" r="1.5"/><circle cx="986.1" cy="128.3" r="3.3"/><circle cx="943.1" cy="135.8" r="3.3"/><circle cx="966.2" cy="138.2" r="4.0"/><circle cx="979.8" cy="137.0" r="2.1"/><circle cx="955.9" cy="139.8" r="2.1"/><circle cx="852.0" cy="158.1" r="0.6"/><circle cx="864.3" cy="170.9" r="6.3"/><circle cx="851.2" cy="181.6" r="5.3"/><circle cx="887.8" cy="145.0" r="2.4"/><circle cx="881.0" cy="154.5" r="1.5"/><circle cx="885.8" cy="162.1" r="1.5"/><circle cx="895.8" cy="163.7" r="1.0"/><circle cx="916.1" cy="167.7" r="2.4"/><circle cx="902.2" cy="181.6" r="2.1"/><circle cx="911.7" cy="179.6" r="1.0"/><circle cx="979.8" cy="147.8" r="2.8"/><circle cx="955.9" cy="156.9" r="5.3"/><circle cx="948.7" cy="162.9" r="4.3"/><circle cx="968.2" cy="157.3" r="2.1"/><circle cx="985.7" cy="159.7" r="1.0"/><circle cx="975.8" cy="174.9" r="3.7"/><circle cx="988.1" cy="174.5" r="3.4"/><circle cx="943.1" cy="184.0" r="4.0"/><circle cx="935.9" cy="185.2" r="1.5"/><circle cx="950.3" cy="185.6" r="1.5"/><circle cx="576.6" cy="210.2" r="7.0"/><circle cx="825.0" cy="194.0" r="2.7"/><circle cx="794.1" cy="264.1" r="1.3"/><circle cx="867.9" cy="208.6" r="2.1"/><circle cx="947.1" cy="188.9" r="4.1"/><circle cx="950.8" cy="194.0" r="2.7"/><circle cx="938.8" cy="186.8" r="1.6"/><circle cx="969.1" cy="232.2" r="2.1"/><circle cx="911.7" cy="260.9" r="2.3"/><circle cx="838.6" cy="286.4" r="1.6"/><circle cx="920.0" cy="341.0" r="1.6"/><circle cx="958.4" cy="342.9" r="2.7"/><circle cx="772.4" cy="437.4" r="1.3"/><circle cx="828.5" cy="419.1" r="3.5"/><circle cx="819.9" cy="431.7" r="1.6"/><circle cx="920.5" cy="412.5" r="2.7"/></g>
<g fill="#fdb432" filter="url(#goo)"><circle cx="742.2" cy="57.8" r="1.9"/><circle cx="808.0" cy="12.4" r="3.7"/><circle cx="803.8" cy="47.1" r="3.7"/><circle cx="841.6" cy="21.1" r="3.6"/><circle cx="867.9" cy="43.5" r="1.5"/><circle cx="894.2" cy="25.1" r="3.6"/><circle cx="922.0" cy="19.5" r="3.6"/><circle cx="959.4" cy="29.5" r="3.6"/><circle cx="971.8" cy="22.3" r="3.6"/><circle cx="979.8" cy="33.1" r="3.6"/><circle cx="962.2" cy="44.2" r="0.9"/><circle cx="967.4" cy="44.2" r="0.9"/><circle cx="989.3" cy="40.3" r="1.5"/><circle cx="994.1" cy="43.5" r="1.5"/><circle cx="879.0" cy="59.4" r="1.5"/><circle cx="850.4" cy="88.8" r="1.5"/><circle cx="909.7" cy="80.9" r="5.0"/><circle cx="915.7" cy="92.0" r="5.0"/><circle cx="905.7" cy="94.0" r="1.5"/><circle cx="922.4" cy="55.0" r="4.3"/><circle cx="924.0" cy="62.2" r="0.9"/><circle cx="934.3" cy="52.2" r="0.9"/><circle cx="945.5" cy="67.7" r="2.7"/><circle cx="946.7" cy="75.3" r="1.5"/><circle cx="965.4" cy="55.0" r="1.5"/><circle cx="970.2" cy="58.6" r="0.9"/><circle cx="959.8" cy="76.1" r="3.6"/><circle cx="953.5" cy="83.7" r="3.6"/><circle cx="928.0" cy="92.4" r="3.6"/><circle cx="941.5" cy="94.0" r="1.5"/><circle cx="984.5" cy="84.9" r="5.6"/><circle cx="987.7" cy="76.1" r="3.9"/><circle cx="980.6" cy="76.5" r="2.7"/><circle cx="974.2" cy="76.9" r="3.9"/><circle cx="969.4" cy="82.1" r="4.7"/><circle cx="966.2" cy="87.3" r="5.0"/><circle cx="973.0" cy="95.6" r="7.3"/><circle cx="995.7" cy="74.1" r="1.5"/><circle cx="808.0" cy="122.8" r="3.7"/><circle cx="837.0" cy="173.0" r="1.9"/><circle cx="855.9" cy="102.8" r="2.7"/><circle cx="879.4" cy="109.5" r="3.9"/><circle cx="888.6" cy="112.3" r="3.9"/><circle cx="867.9" cy="134.2" r="0.9"/><circle cx="899.8" cy="130.3" r="5.9"/><circle cx="904.5" cy="137.4" r="2.7"/><circle cx="917.7" cy="117.5" r="1.5"/><circle cx="917.7" cy="125.5" r="0.9"/><circle cx="915.7" cy="96.8" r="1.5"/><circle cx="950.3" cy="109.9" r="3.9"/><circle cx="947.1" cy="111.9" r="1.5"/><circle cx="939.9" cy="116.3" r="3.6"/><circle cx="941.5" cy="123.9" r="3.6"/><circle cx="966.2" cy="114.7" r="2.7"/><circle cx="986.1" cy="110.7" r="5.6"/><circle cx="994.9" cy="115.9" r="5.0"/><circle cx="994.1" cy="121.5" r="1.5"/><circle cx="976.6" cy="123.9" r="3.2"/><circle cx="986.1" cy="128.3" r="2.7"/><circle cx="943.1" cy="135.8" r="2.7"/><circle cx="966.2" cy="138.2" r="3.6"/><circle cx="979.8" cy="137.0" r="0.9"/><circle cx="955.9" cy="139.8" r="0.9"/><circle cx="864.3" cy="170.9" r="6.0"/><circle cx="851.2" cy="181.6" r="5.0"/><circle cx="887.8" cy="145.0" r="1.5"/><circle cx="916.1" cy="167.7" r="1.5"/><circle cx="902.2" cy="181.6" r="0.9"/><circle cx="979.8" cy="147.8" r="2.0"/><circle cx="955.9" cy="156.9" r="5.0"/><circle cx="948.7" cy="162.9" r="3.9"/><circle cx="968.2" cy="157.3" r="0.9"/><circle cx="975.8" cy="174.9" r="3.2"/><circle cx="988.1" cy="174.5" r="2.9"/><circle cx="943.1" cy="184.0" r="3.6"/><circle cx="576.6" cy="210.2" r="6.7"/><circle cx="825.0" cy="194.0" r="1.9"/><circle cx="867.9" cy="208.6" r="0.9"/><circle cx="947.1" cy="188.9" r="3.7"/><circle cx="950.8" cy="194.0" r="1.9"/><circle cx="969.1" cy="232.2" r="0.9"/><circle cx="911.7" cy="260.9" r="1.3"/><circle cx="958.4" cy="342.9" r="1.9"/><circle cx="828.5" cy="419.1" r="2.9"/><circle cx="920.5" cy="412.5" r="1.9"/></g>
<g fill="#ffe23c" filter="url(#goo)"><circle cx="808.0" cy="12.4" r="2.9"/><circle cx="803.8" cy="47.1" r="2.9"/><circle cx="841.6" cy="21.1" r="2.8"/><circle cx="894.2" cy="25.1" r="2.8"/><circle cx="922.0" cy="19.5" r="2.8"/><circle cx="959.4" cy="29.5" r="2.8"/><circle cx="971.8" cy="22.3" r="2.8"/><circle cx="979.8" cy="33.1" r="2.8"/><circle cx="909.7" cy="80.9" r="4.5"/><circle cx="915.7" cy="92.0" r="4.5"/><circle cx="922.4" cy="55.0" r="3.7"/><circle cx="945.5" cy="67.7" r="1.5"/><circle cx="959.8" cy="76.1" r="2.8"/><circle cx="953.5" cy="83.7" r="2.8"/><circle cx="928.0" cy="92.4" r="2.8"/><circle cx="984.5" cy="84.9" r="5.2"/><circle cx="987.7" cy="76.1" r="3.2"/><circle cx="980.6" cy="76.5" r="1.5"/><circle cx="974.2" cy="76.9" r="3.2"/><circle cx="969.4" cy="82.1" r="4.2"/><circle cx="966.2" cy="87.3" r="4.5"/><circle cx="973.0" cy="95.6" r="7.0"/><circle cx="808.0" cy="122.8" r="2.9"/><circle cx="855.9" cy="102.8" r="1.5"/><circle cx="879.4" cy="109.5" r="3.2"/><circle cx="888.6" cy="112.3" r="3.2"/><circle cx="899.8" cy="130.3" r="5.4"/><circle cx="904.5" cy="137.4" r="1.5"/><circle cx="950.3" cy="109.9" r="3.2"/><circle cx="939.9" cy="116.3" r="2.8"/><circle cx="941.5" cy="123.9" r="2.8"/><circle cx="966.2" cy="114.7" r="1.5"/><circle cx="986.1" cy="110.7" r="5.2"/><circle cx="994.9" cy="115.9" r="4.5"/><circle cx="976.6" cy="123.9" r="2.3"/><circle cx="986.1" cy="128.3" r="1.5"/><circle cx="943.1" cy="135.8" r="1.5"/><circle cx="966.2" cy="138.2" r="2.8"/><circle cx="864.3" cy="170.9" r="5.5"/><circle cx="851.2" cy="181.6" r="4.5"/><circle cx="955.9" cy="156.9" r="4.5"/><circle cx="948.7" cy="162.9" r="3.2"/><circle cx="975.8" cy="174.9" r="2.3"/><circle cx="988.1" cy="174.5" r="1.8"/><circle cx="943.1" cy="184.0" r="2.8"/><circle cx="576.6" cy="210.2" r="6.3"/><circle cx="947.1" cy="188.9" r="2.9"/><circle cx="828.5" cy="419.1" r="1.8"/></g>
<g fill="#fff5a0" filter="url(#goo)"><circle cx="808.0" cy="12.4" r="0.8"/><circle cx="803.8" cy="47.1" r="0.8"/><circle cx="909.7" cy="80.9" r="3.4"/><circle cx="915.7" cy="92.0" r="3.4"/><circle cx="922.4" cy="55.0" r="2.4"/><circle cx="984.5" cy="84.9" r="4.3"/><circle cx="987.7" cy="76.1" r="1.4"/><circle cx="974.2" cy="76.9" r="1.4"/><circle cx="969.4" cy="82.1" r="3.0"/><circle cx="966.2" cy="87.3" r="3.4"/><circle cx="973.0" cy="95.6" r="6.4"/><circle cx="808.0" cy="122.8" r="0.8"/><circle cx="879.4" cy="109.5" r="1.4"/><circle cx="888.6" cy="112.3" r="1.4"/><circle cx="899.8" cy="130.3" r="4.6"/><circle cx="950.3" cy="109.9" r="1.4"/><circle cx="986.1" cy="110.7" r="4.3"/><circle cx="994.9" cy="115.9" r="3.4"/><circle cx="864.3" cy="170.9" r="4.8"/><circle cx="851.2" cy="181.6" r="3.4"/><circle cx="955.9" cy="156.9" r="3.4"/><circle cx="948.7" cy="162.9" r="1.4"/><circle cx="576.6" cy="210.2" r="5.7"/><circle cx="947.1" cy="188.9" r="0.8"/></g>
<g fill="#ffffff" filter="url(#goo)"><circle cx="909.7" cy="80.9" r="2.2"/><circle cx="915.7" cy="92.0" r="2.2"/><circle cx="984.5" cy="84.9" r="3.4"/><circle cx="969.4" cy="82.1" r="1.5"/><circle cx="966.2" cy="87.3" r="2.2"/><circle cx="973.0" cy="95.6" r="5.8"/><circle cx="899.8" cy="130.3" r="3.8"/><circle cx="986.1" cy="110.7" r="3.4"/><circle cx="994.9" cy="115.9" r="2.2"/><circle cx="864.3" cy="170.9" r="4.0"/><circle cx="851.2" cy="181.6" r="2.2"/><circle cx="955.9" cy="156.9" r="2.2"/><circle cx="576.6" cy="210.2" r="5.0"/></g>
</g></g>
<!-- scale bar -->
<g stroke="#fff" stroke-width="1.5" fill="none">
<line x1="599" y1="455.1" x2="599" y2="470.9"/>
<line x1="608" y1="463" x2="743.8" y2="463"/>
<line x1="786" y1="464.3" x2="912" y2="464.3"/>
<line x1="921.7" y1="456.8" x2="921.7" y2="472.1"/>
</g>
<path d="M599.8 463.1 L615.3 458 L614 463.1 L615.3 468.2Z" fill="#fff"/>
<path d="M920.8 464.3 L905.3 459.2 L906.5 464.3 L905.3 469.4Z" fill="#fff"/>
<text transform="translate(754.6 470.6) scale(0.98 1)" font-family="Liberation Sans, Arial, sans-serif" font-size="21.5" fill="#fff">5"</text>
<!-- legend -->
<rect x="746.2" y="498.2" width="251.5" height="35.8" fill="#fbeeb0"/>
<rect x="746.2" y="498.2" width="251.5" height="18.4" fill="#c6c5e6"/>
<g clip-path="url(#cw)"><path d="M734.7 499.4 C743.81 499.4 750.60 515.3 759.7 515.3 C768.81 515.3 775.60 499.4 784.7 499.4 C793.81 499.4 800.60 515.3 809.7 515.3 C815.45 515.3 819.75 499.4 825.5 499.4 C831.95 499.4 836.75 515.3 843.2 515.3 C848.23 515.3 851.97 499.4 857.0 499.4 C861.55 499.4 864.95 515.3 869.5 515.3 C874.49 515.3 878.21 499.4 883.2 499.4 C887.50 499.4 890.70 515.3 895.0 515.3 C898.61 515.3 901.29 499.4 904.9 499.4 C908.47 499.4 911.13 515.3 914.7 515.3 C917.83 515.3 920.17 499.4 923.3 499.4 C926.18 499.4 928.32 515.3 931.2 515.3 C933.82 515.3 935.78 499.4 938.4 499.4 C941.02 499.4 942.98 515.3 945.6 515.3 C948.00 515.3 949.80 499.4 952.2 499.4 C954.35 499.4 955.95 515.3 958.1 515.3 C960.03 515.3 961.47 499.4 963.4 499.4 C965.29 499.4 966.71 515.3 968.6 515.3 C970.28 515.3 971.52 499.4 973.2 499.4 C974.66 499.4 975.74 515.3 977.2 515.3 C978.62 515.3 979.68 499.4 981.1 499.4 C982.30 499.4 983.20 515.3 984.4 515.3 C985.46 515.3 986.24 499.4 987.3 499.4 C988.17 499.4 988.83 515.3 989.7 515.3 C990.39 515.3 990.91 499.4 991.6 499.4 C992.36 499.4 992.94 515.3 993.7 515.3 C994.25 515.3 994.65 499.4 995.2 499.4 C995.71 499.4 996.09 515.3 996.6 515.3 C997.11 515.3 997.49 499.4 998.0 499.4" fill="none" stroke="#111" stroke-width="1.5"/></g>
<line x1="746.2" y1="516.6" x2="997.7" y2="516.6" stroke="#333" stroke-width="0.9"/>
<rect x="746.2" y="498.2" width="251.5" height="35.8" fill="none" stroke="#444" stroke-width="0.9"/>
<g font-family="Liberation Sans, Arial, sans-serif" font-size="14.2" font-weight="bold" text-anchor="middle" fill="#111">
<text x="760.4" y="530.2">R</text><text x="803" y="530.2" fill="#e8202c">I</text><text x="844.5" y="530.2">V</text><text x="891.5" y="530.2">U</text><text x="936" y="530.2">X</text><text x="983.8" y="530.2">G</text>
</g>
<g font-family="Liberation Sans, Arial, Helvetica, sans-serif" fill="#1c1c1c">
<text transform="translate(5.2 508.9) scale(0.938 1)" font-size="20">(a)</text>
<text transform="translate(519.5 508.9) scale(0.938 1)" font-size="20">(b)</text>
<text x="5.6" y="553.4" font-size="12.5" fill="#262626">© 2011 Pearson Education, Inc.</text>
</g>
</svg>
</body></html>
